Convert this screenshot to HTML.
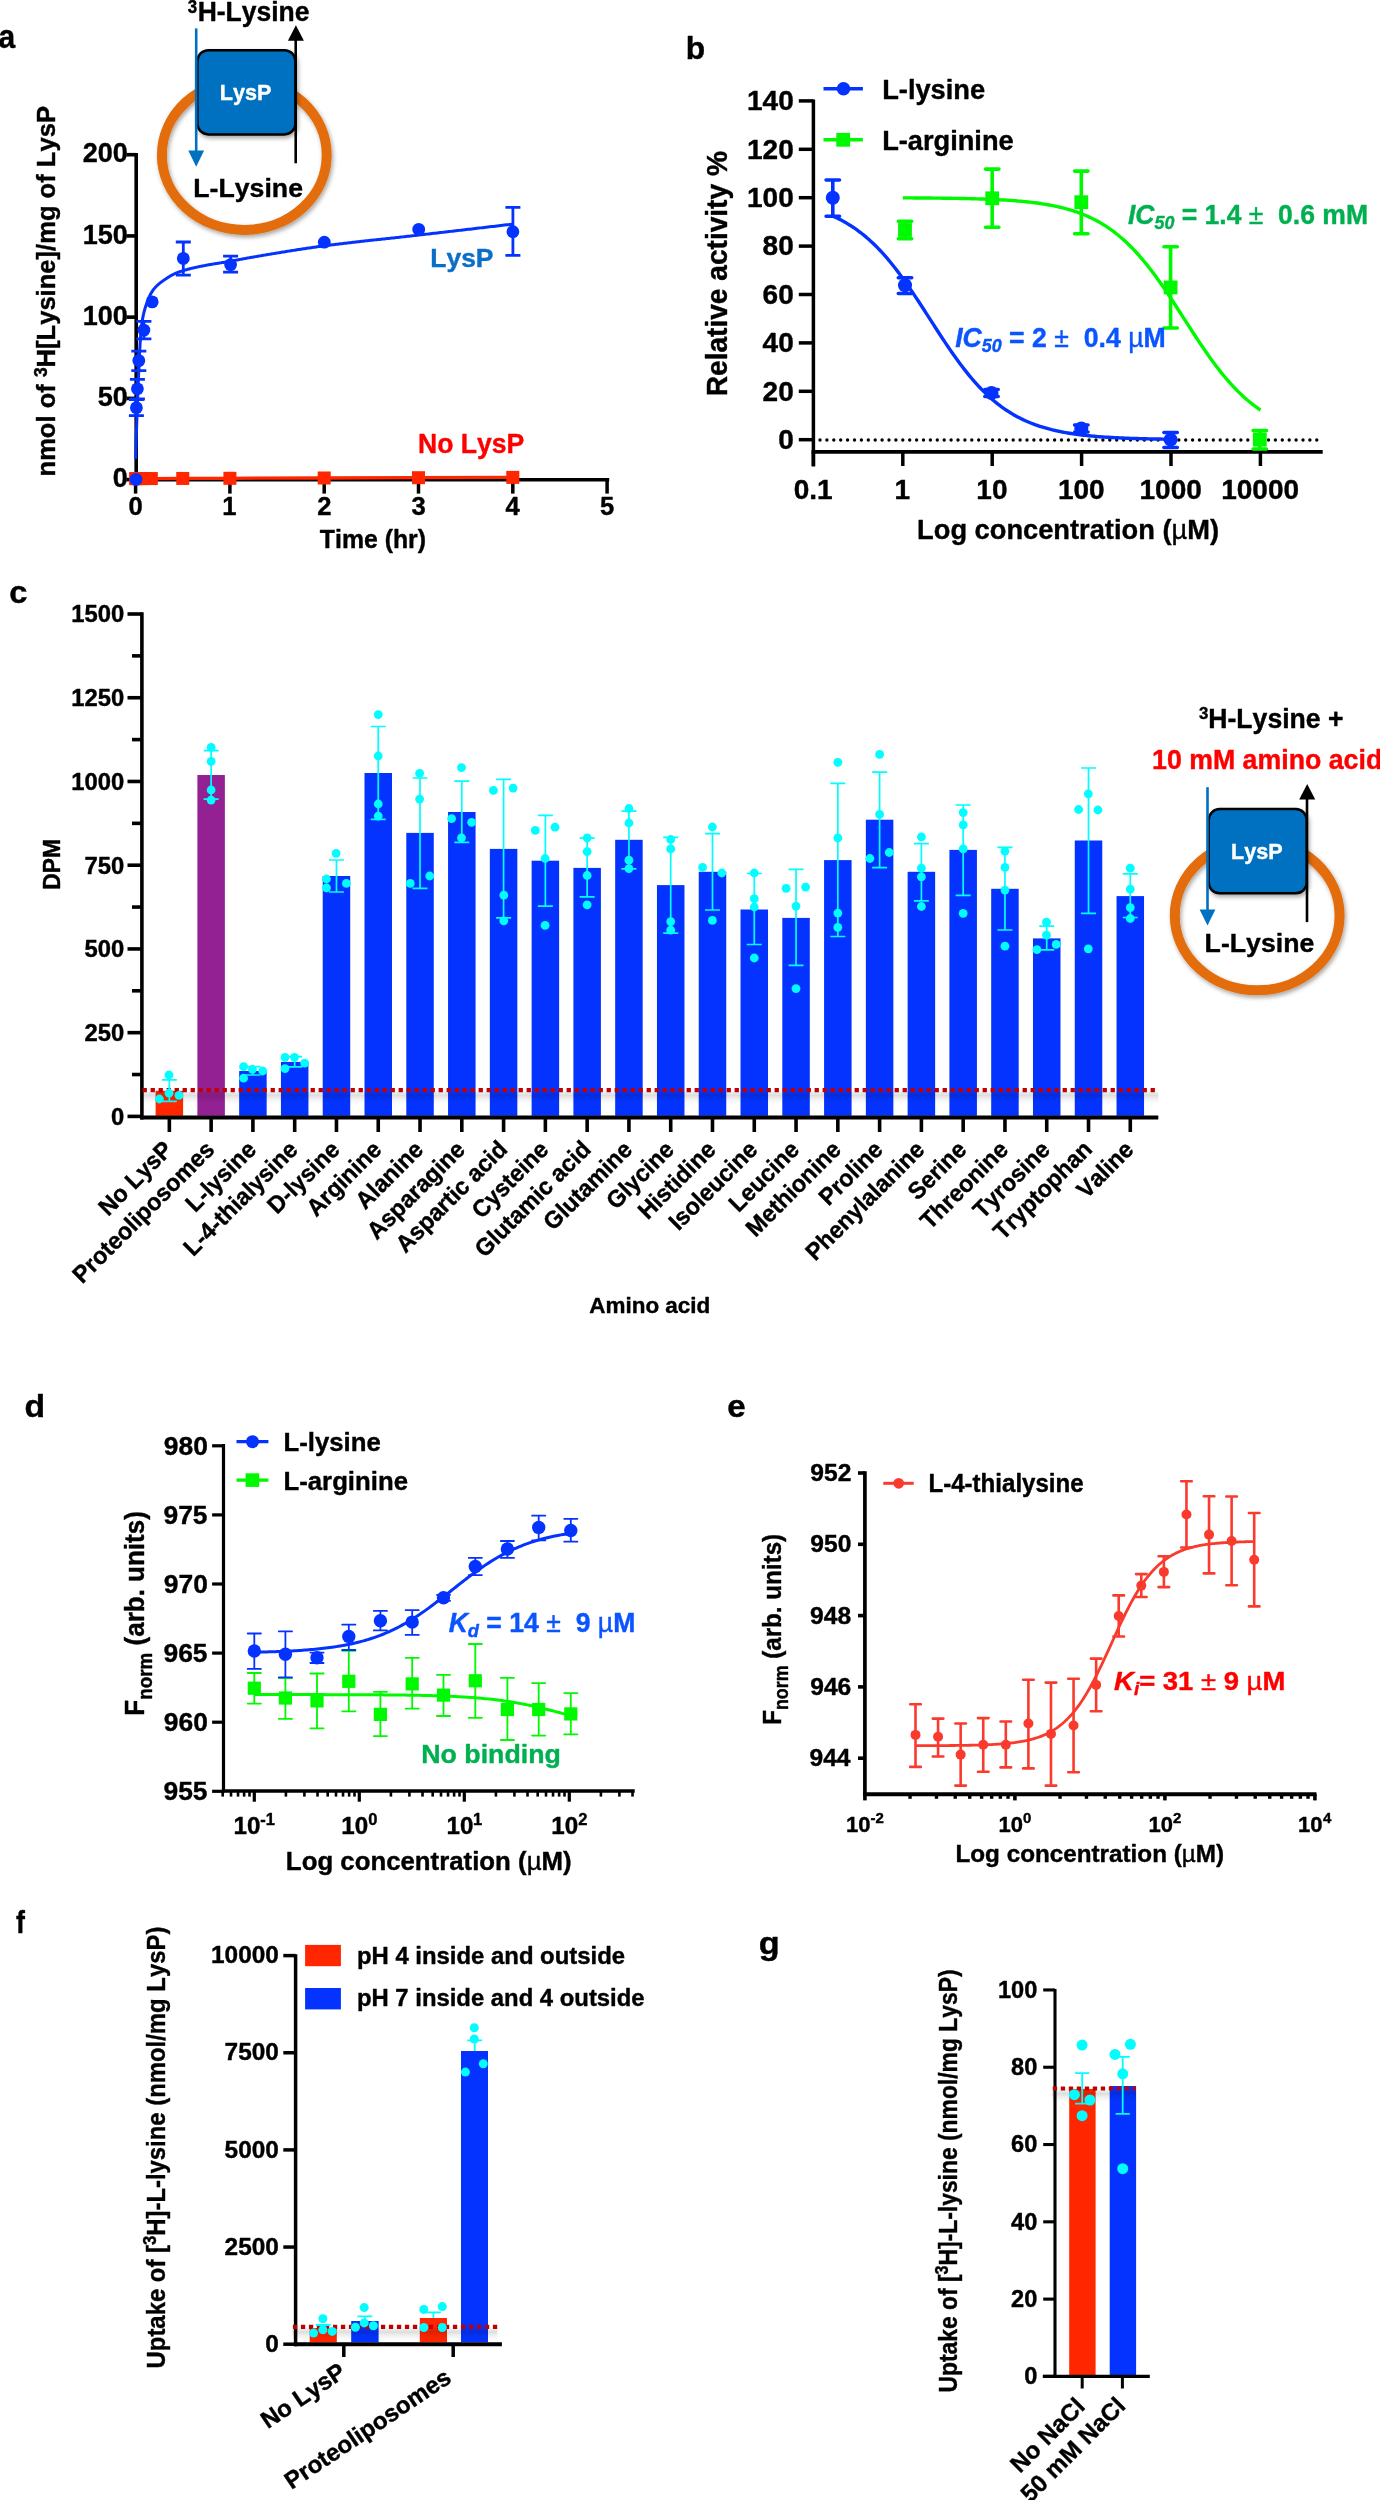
<!DOCTYPE html><html><head><meta charset="utf-8"><title>LysP figure</title><style>html,body{margin:0;padding:0;background:#fff;width:1380px;height:2500px;overflow:hidden}svg{display:block;opacity:0.999}text{font-family:"Liberation Sans",sans-serif;stroke-width:0.4px;stroke-linejoin:round}</style></head><body><svg width="1380" height="2500" viewBox="0 0 1380 2500" font-family="Liberation Sans, sans-serif" font-weight="bold" xml:space="preserve" style="font-kerning:none;white-space:pre">
<defs><filter id="sh" x="-20%" y="-20%" width="140%" height="140%"><feDropShadow dx="1.5" dy="2.5" stdDeviation="2.2" flood-color="#000" flood-opacity="0.35"/></filter><linearGradient id="gs" x1="0" y1="0" x2="0" y2="1"><stop offset="0" stop-color="#000" stop-opacity="0.05"/><stop offset="0.3" stop-color="#000" stop-opacity="0.13"/><stop offset="0.6" stop-color="#000" stop-opacity="0.06"/><stop offset="1" stop-color="#000" stop-opacity="0"/></linearGradient></defs>
<rect x="0" y="0" width="1380" height="2500" fill="#fff"/>
<g transform="translate(0,0)">
<ellipse cx="244.3" cy="155" rx="82.4" ry="74.9" fill="none" stroke="#E36C09" stroke-width="10" filter="url(#sh)"/>
<rect x="197.35" y="50.25" width="98.1" height="84.2" rx="11" fill="#0070C0" stroke="#000" stroke-width="2.5" filter="url(#sh)"/>
<line x1="196.2" y1="28.4" x2="196.2" y2="152" stroke="#0070C0" stroke-width="2.6"/>
<path d="M188.3 150.6 L204.1 150.6 L196.2 166.8 Z" fill="#0070C0"/>
<line x1="295.7" y1="163.3" x2="295.7" y2="39" stroke="#000" stroke-width="2.6"/>
<path d="M287.9 40.8 L303.9 40.8 L295.9 25.3 Z" fill="#000"/>
</g>
<text transform="translate(219.76,100.4) scale(0.9809,1)" fill="#fff" stroke="#fff"><tspan font-size="22">LysP</tspan></text>
<text transform="translate(193.32,196.5) scale(1.0067,1)" fill="#000" stroke="#000"><tspan font-size="26.5">L-Lysine</tspan></text>
<text transform="translate(187.71,12.9) scale(0.9135,1)" fill="#000" stroke="#000"><tspan font-size="18.5">3</tspan></text>
<text transform="translate(197.63,21) scale(0.9812,1)" fill="#000" stroke="#000"><tspan font-size="27">H-Lysine</tspan></text>
<text transform="translate(-1.48,48.2) scale(0.9093,1)" fill="#000" stroke="#000"><tspan font-size="33">a</tspan></text>
<line x1="136.2" y1="153" x2="136.2" y2="481.5" stroke="#000" stroke-width="3.6" stroke-linecap="butt"/>
<line x1="126.4" y1="479.6" x2="136.2" y2="479.6" stroke="#000" stroke-width="3.6" stroke-linecap="butt"/>
<text transform="translate(112.69,487.3) scale(1.0000,1)" fill="#000" stroke="#000"><tspan font-size="27">0</tspan></text>
<line x1="126.4" y1="398.38" x2="136.2" y2="398.38" stroke="#000" stroke-width="3.6" stroke-linecap="butt"/>
<text transform="translate(97.68,406.07) scale(1.0000,1)" fill="#000" stroke="#000"><tspan font-size="27">50</tspan></text>
<line x1="126.4" y1="317.15" x2="136.2" y2="317.15" stroke="#000" stroke-width="3.6" stroke-linecap="butt"/>
<text transform="translate(82.66,324.85) scale(1.0000,1)" fill="#000" stroke="#000"><tspan font-size="27">100</tspan></text>
<line x1="126.4" y1="235.93" x2="136.2" y2="235.93" stroke="#000" stroke-width="3.6" stroke-linecap="butt"/>
<text transform="translate(82.66,243.62) scale(1.0000,1)" fill="#000" stroke="#000"><tspan font-size="27">150</tspan></text>
<line x1="126.4" y1="154.7" x2="136.2" y2="154.7" stroke="#000" stroke-width="3.6" stroke-linecap="butt"/>
<text transform="translate(82.66,162.4) scale(1.0000,1)" fill="#000" stroke="#000"><tspan font-size="27">200</tspan></text>
<line x1="134.4" y1="479.8" x2="609.2" y2="479.8" stroke="#000" stroke-width="3.4" stroke-linecap="butt"/>
<line x1="135.6" y1="479.8" x2="135.6" y2="493.6" stroke="#000" stroke-width="3.5" stroke-linecap="butt"/>
<text transform="translate(128.5,514.6) scale(1.0000,1)" fill="#000" stroke="#000"><tspan font-size="25.6">0</tspan></text>
<line x1="229.9" y1="479.8" x2="229.9" y2="493.6" stroke="#000" stroke-width="3.5" stroke-linecap="butt"/>
<text transform="translate(222.33,514.6) scale(1.0000,1)" fill="#000" stroke="#000"><tspan font-size="25.6">1</tspan></text>
<line x1="324.2" y1="479.8" x2="324.2" y2="493.6" stroke="#000" stroke-width="3.5" stroke-linecap="butt"/>
<text transform="translate(317.15,514.6) scale(1.0000,1)" fill="#000" stroke="#000"><tspan font-size="25.6">2</tspan></text>
<line x1="418.5" y1="479.8" x2="418.5" y2="493.6" stroke="#000" stroke-width="3.5" stroke-linecap="butt"/>
<text transform="translate(411.55,514.6) scale(1.0000,1)" fill="#000" stroke="#000"><tspan font-size="25.6">3</tspan></text>
<line x1="512.8" y1="479.8" x2="512.8" y2="493.6" stroke="#000" stroke-width="3.5" stroke-linecap="butt"/>
<text transform="translate(505.56,514.6) scale(1.0000,1)" fill="#000" stroke="#000"><tspan font-size="25.6">4</tspan></text>
<line x1="607.1" y1="479.8" x2="607.1" y2="493.6" stroke="#000" stroke-width="3.5" stroke-linecap="butt"/>
<text transform="translate(599.94,514.6) scale(1.0000,1)" fill="#000" stroke="#000"><tspan font-size="25.6">5</tspan></text>
<text transform="translate(319.82,548.2) scale(0.9932,1)" fill="#000" stroke="#000"><tspan font-size="25">Time (hr)</tspan></text>
<text transform="translate(55.4,476.49) rotate(-90) scale(0.9651,1)" fill="#000" stroke="#000"><tspan font-size="26.5">nmol of </tspan><tspan font-size="18" dy="-8">3</tspan><tspan font-size="26.5" dy="8">H[Lysine]/mg of LysP</tspan></text>
<text transform="translate(430.33,267.1) scale(0.9974,1)" fill="#0A6FC6" stroke="#0A6FC6"><tspan font-size="26.5">LysP</tspan></text>
<text transform="translate(418.02,453) scale(0.9660,1)" fill="#FF0000" stroke="#FF0000"><tspan font-size="27.5">No LysP</tspan></text>
<path d="M135.6 478.6 L137.17 478.6 L138.74 478.59 L143.46 478.58 L151.32 478.55 L182.75 478.45 L229.9 478.3 L324.2 478 L418.5 477.7 L512.8 477.4" fill="none" stroke="#FF2600" stroke-width="3.3" stroke-linejoin="round"/>
<rect x="129.1" y="472.1" width="13" height="13" fill="#FF2600"/>
<rect x="130.67" y="472.1" width="13" height="13" fill="#FF2600"/>
<rect x="132.24" y="472.09" width="13" height="13" fill="#FF2600"/>
<rect x="136.96" y="472.08" width="13" height="13" fill="#FF2600"/>
<rect x="144.82" y="472.05" width="13" height="13" fill="#FF2600"/>
<rect x="176.25" y="471.95" width="13" height="13" fill="#FF2600"/>
<rect x="223.4" y="471.8" width="13" height="13" fill="#FF2600"/>
<rect x="317.7" y="471.5" width="13" height="13" fill="#FF2600"/>
<rect x="412" y="471.2" width="13" height="13" fill="#FF2600"/>
<rect x="506.3" y="470.9" width="13" height="13" fill="#FF2600"/>
<path d="M135.6 459 L135.6 458.92 L135.61 458.68 L135.62 458.28 L135.64 457.72 L135.66 457.01 L135.68 456.14 L135.72 455.11 L135.75 453.94 L135.79 452.61 L135.84 451.13 L135.88 449.51 L135.94 447.74 L136 445.83 L136.06 443.79 L136.13 441.61 L136.2 439.31 L136.28 436.88 L136.36 434.32 L136.45 431.66 L136.54 428.87 L136.64 425.98 L136.74 422.99 L136.84 419.9 L136.96 416.72 L137.07 413.44 L137.19 410.09 L137.31 406.66 L137.44 403.15 L137.58 399.58 L137.72 395.95 L137.86 392.25 L138.01 388.51 L138.16 384.72 L138.32 380.9 L138.48 377.03 L138.65 373.13 L138.82 369.21 L139 365.26 L139.18 361.31 L139.36 357.43 L139.55 353.67 L139.75 350.03 L139.95 346.54 L140.15 343.16 L140.36 339.84 L140.58 336.67 L140.8 333.8 L141.02 331.3 L141.25 328.98 L141.48 326.82 L141.72 324.8 L141.96 322.95 L142.21 321.25 L142.46 319.67 L142.72 318.2 L142.98 316.81 L143.24 315.49 L143.51 314.25 L143.79 313.06 L144.07 311.92 L144.35 310.82 L144.64 309.75 L144.94 308.73 L145.24 307.73 L145.54 306.76 L145.85 305.82 L146.16 304.89 L146.48 303.96 L146.8 303.04 L147.13 302.12 L147.46 301.2 L147.8 300.29 L148.14 299.4 L148.48 298.52 L148.83 297.68 L149.19 296.86 L149.55 296.09 L149.91 295.36 L150.28 294.68 L150.66 294.01 L151.03 293.36 L151.42 292.72 L151.81 292.09 L152.2 291.48 L152.6 290.88 L153 290.3 L153.41 289.73 L153.82 289.18 L154.23 288.64 L154.66 288.12 L155.08 287.62 L155.51 287.13 L155.95 286.66 L156.39 286.21 L156.83 285.76 L157.28 285.33 L157.73 284.91 L158.19 284.51 L158.66 284.11 L159.12 283.72 L159.6 283.33 L160.08 282.96 L160.56 282.59 L161.04 282.23 L161.54 281.87 L162.03 281.51 L162.53 281.16 L163.04 280.81 L163.55 280.46 L164.07 280.1 L164.59 279.75 L165.11 279.39 L165.64 279.02 L166.17 278.66 L166.71 278.3 L167.26 277.93 L167.8 277.57 L168.36 277.21 L168.91 276.86 L169.48 276.51 L170.04 276.16 L170.61 275.82 L171.19 275.49 L171.77 275.17 L172.36 274.86 L172.95 274.56 L173.54 274.28 L174.14 274 L174.75 273.73 L175.36 273.47 L175.97 273.21 L176.59 272.95 L177.21 272.7 L177.84 272.45 L178.47 272.21 L179.11 271.98 L179.75 271.74 L180.4 271.52 L181.05 271.3 L181.71 271.08 L182.37 270.87 L183.04 270.66 L183.71 270.46 L184.38 270.26 L185.06 270.06 L185.75 269.87 L186.44 269.68 L187.13 269.49 L187.83 269.3 L188.53 269.11 L189.24 268.93 L189.95 268.75 L190.67 268.57 L191.39 268.4 L192.12 268.22 L192.85 268.05 L193.59 267.88 L194.33 267.71 L195.07 267.54 L195.82 267.37 L196.58 267.21 L197.34 267.04 L198.1 266.88 L198.87 266.72 L199.65 266.56 L200.43 266.4 L201.21 266.24 L202 266.08 L202.79 265.92 L203.59 265.76 L204.39 265.6 L205.2 265.45 L206.01 265.29 L206.82 265.14 L207.65 264.99 L208.47 264.84 L209.3 264.7 L210.14 264.55 L210.98 264.41 L211.82 264.27 L212.67 264.12 L213.52 263.98 L214.38 263.84 L215.25 263.7 L216.11 263.56 L216.99 263.43 L217.86 263.29 L218.75 263.15 L219.63 263.01 L220.53 262.86 L221.42 262.72 L222.32 262.58 L223.23 262.43 L224.14 262.29 L225.05 262.14 L225.97 261.99 L226.9 261.83 L227.83 261.68 L228.76 261.52 L229.7 261.35 L230.64 261.19 L231.59 261.02 L232.54 260.84 L233.5 260.67 L234.46 260.49 L235.43 260.31 L236.4 260.12 L237.38 259.94 L238.36 259.75 L239.35 259.57 L240.34 259.38 L241.33 259.19 L242.33 259 L243.34 258.81 L244.34 258.62 L245.36 258.43 L246.38 258.25 L247.4 258.06 L248.43 257.88 L249.46 257.69 L250.5 257.51 L251.54 257.33 L252.59 257.15 L253.64 256.97 L254.7 256.79 L255.76 256.61 L256.82 256.42 L257.89 256.24 L258.97 256.06 L260.05 255.87 L261.13 255.69 L262.22 255.5 L263.31 255.31 L264.41 255.13 L265.52 254.94 L266.62 254.75 L267.74 254.56 L268.86 254.37 L269.98 254.19 L271.1 254 L272.24 253.81 L273.37 253.62 L274.51 253.43 L275.66 253.24 L276.81 253.05 L277.96 252.86 L279.12 252.66 L280.29 252.47 L281.46 252.28 L282.63 252.09 L283.81 251.9 L284.99 251.71 L286.18 251.52 L287.37 251.32 L288.57 251.13 L289.77 250.94 L290.98 250.75 L292.19 250.56 L293.41 250.37 L294.63 250.18 L295.85 249.98 L297.09 249.79 L298.32 249.6 L299.56 249.41 L300.8 249.22 L302.05 249.03 L303.31 248.84 L304.57 248.65 L305.83 248.47 L307.1 248.28 L308.37 248.09 L309.65 247.9 L310.93 247.72 L312.22 247.53 L313.51 247.35 L314.8 247.16 L316.1 246.98 L317.41 246.79 L318.72 246.61 L320.04 246.43 L321.36 246.25 L322.68 246.07 L324.01 245.89 L325.34 245.71 L326.68 245.54 L328.03 245.36 L329.37 245.19 L330.73 245.01 L332.08 244.84 L333.45 244.67 L334.81 244.49 L336.18 244.32 L337.56 244.15 L338.94 243.98 L340.33 243.81 L341.72 243.64 L343.11 243.48 L344.51 243.31 L345.92 243.14 L347.32 242.98 L348.74 242.81 L350.16 242.65 L351.58 242.48 L353.01 242.32 L354.44 242.15 L355.88 241.99 L357.32 241.83 L358.77 241.66 L360.22 241.5 L361.68 241.34 L363.14 241.17 L364.6 241.01 L366.07 240.85 L367.55 240.69 L369.03 240.53 L370.51 240.36 L372 240.2 L373.49 240.04 L374.99 239.88 L376.5 239.71 L378 239.55 L379.52 239.39 L381.03 239.23 L382.56 239.06 L384.08 238.9 L385.61 238.73 L387.15 238.57 L388.69 238.4 L390.24 238.24 L391.79 238.07 L393.34 237.9 L394.9 237.73 L396.47 237.56 L398.04 237.39 L399.61 237.22 L401.19 237.05 L402.77 236.88 L404.36 236.7 L405.95 236.53 L407.55 236.35 L409.15 236.17 L410.76 235.99 L412.37 235.81 L413.99 235.63 L415.61 235.44 L417.23 235.26 L418.86 235.07 L420.5 234.88 L422.14 234.69 L423.78 234.5 L425.43 234.31 L427.08 234.12 L428.74 233.93 L430.41 233.74 L432.07 233.54 L433.75 233.35 L435.42 233.16 L437.11 232.96 L438.79 232.77 L440.48 232.57 L442.18 232.37 L443.88 232.18 L445.59 231.98 L447.3 231.78 L449.01 231.58 L450.73 231.38 L452.46 231.18 L454.18 230.98 L455.92 230.78 L457.66 230.57 L459.4 230.37 L461.15 230.17 L462.9 229.96 L464.66 229.76 L466.42 229.55 L468.19 229.35 L469.96 229.14 L471.73 228.93 L473.52 228.72 L475.3 228.51 L477.09 228.3 L478.89 228.09 L480.69 227.88 L482.49 227.67 L484.3 227.46 L486.11 227.25 L487.93 227.03 L489.75 226.82 L491.58 226.6 L493.42 226.39 L495.25 226.17 L497.09 225.96 L498.94 225.74 L500.79 225.52 L502.65 225.3 L504.51 225.08 L506.38 224.86 L508.25 224.64 L510.12 224.42 L512 224.2" fill="none" stroke="#0433FF" stroke-width="3" stroke-linejoin="round"/>
<path d="M136.4 399.7 V415.7 M128.9 399.7 H143.9 M128.9 415.7 H143.9" stroke="#0433FF" stroke-width="2.8" stroke-linecap="butt" fill="none"/>
<circle cx="136.4" cy="407.7" r="6.4" fill="#0433FF"/>
<path d="M137.4 379.4 V399 M129.9 379.4 H144.9 M129.9 399 H144.9" stroke="#0433FF" stroke-width="2.8" stroke-linecap="butt" fill="none"/>
<circle cx="137.4" cy="388.8" r="6.4" fill="#0433FF"/>
<path d="M138.8 351.2 V370.7 M131.3 351.2 H146.3 M131.3 370.7 H146.3" stroke="#0433FF" stroke-width="2.8" stroke-linecap="butt" fill="none"/>
<circle cx="138.8" cy="360.6" r="6.4" fill="#0433FF"/>
<path d="M143.9 321.4 V338.8 M136.4 321.4 H151.4 M136.4 338.8 H151.4" stroke="#0433FF" stroke-width="2.8" stroke-linecap="butt" fill="none"/>
<circle cx="143.9" cy="330.1" r="6.4" fill="#0433FF"/>
<circle cx="152.2" cy="301.9" r="6.4" fill="#0433FF"/>
<path d="M183.3 242 V275.1 M175.8 242 H190.8 M175.8 275.1 H190.8" stroke="#0433FF" stroke-width="2.8" stroke-linecap="butt" fill="none"/>
<circle cx="183.3" cy="258.4" r="6.4" fill="#0433FF"/>
<path d="M230.6 256.2 V272.2 M223.1 256.2 H238.1 M223.1 272.2 H238.1" stroke="#0433FF" stroke-width="2.8" stroke-linecap="butt" fill="none"/>
<circle cx="230.6" cy="264.6" r="6.4" fill="#0433FF"/>
<circle cx="324.3" cy="242.2" r="6.4" fill="#0433FF"/>
<circle cx="418.7" cy="229.4" r="6.4" fill="#0433FF"/>
<path d="M512.9 207.4 V255.4 M505.4 207.4 H520.4 M505.4 255.4 H520.4" stroke="#0433FF" stroke-width="2.8" stroke-linecap="butt" fill="none"/>
<circle cx="512.9" cy="231.7" r="6.4" fill="#0433FF"/>
<circle cx="136" cy="479.4" r="6.4" fill="#0433FF"/>
<text transform="translate(685.81,59.3) scale(1.0410,1)" fill="#000" stroke="#000"><tspan font-size="30.5">b</tspan></text>
<line x1="813.4" y1="99.6" x2="813.4" y2="466.4" stroke="#000" stroke-width="3.5" stroke-linecap="butt"/>
<line x1="798.8" y1="439.7" x2="813.4" y2="439.7" stroke="#000" stroke-width="3.5" stroke-linecap="butt"/>
<text transform="translate(778.18,449) scale(1.0000,1)" fill="#000" stroke="#000"><tspan font-size="28">0</tspan></text>
<line x1="798.8" y1="391.3" x2="813.4" y2="391.3" stroke="#000" stroke-width="3.5" stroke-linecap="butt"/>
<text transform="translate(762.6,400.6) scale(1.0000,1)" fill="#000" stroke="#000"><tspan font-size="28">20</tspan></text>
<line x1="798.8" y1="342.9" x2="813.4" y2="342.9" stroke="#000" stroke-width="3.5" stroke-linecap="butt"/>
<text transform="translate(762.6,352.2) scale(1.0000,1)" fill="#000" stroke="#000"><tspan font-size="28">40</tspan></text>
<line x1="798.8" y1="294.5" x2="813.4" y2="294.5" stroke="#000" stroke-width="3.5" stroke-linecap="butt"/>
<text transform="translate(762.6,303.8) scale(1.0000,1)" fill="#000" stroke="#000"><tspan font-size="28">60</tspan></text>
<line x1="798.8" y1="246.1" x2="813.4" y2="246.1" stroke="#000" stroke-width="3.5" stroke-linecap="butt"/>
<text transform="translate(762.6,255.4) scale(1.0000,1)" fill="#000" stroke="#000"><tspan font-size="28">80</tspan></text>
<line x1="798.8" y1="197.7" x2="813.4" y2="197.7" stroke="#000" stroke-width="3.5" stroke-linecap="butt"/>
<text transform="translate(747.03,207) scale(1.0000,1)" fill="#000" stroke="#000"><tspan font-size="28">100</tspan></text>
<line x1="798.8" y1="149.3" x2="813.4" y2="149.3" stroke="#000" stroke-width="3.5" stroke-linecap="butt"/>
<text transform="translate(747.03,158.6) scale(1.0000,1)" fill="#000" stroke="#000"><tspan font-size="28">120</tspan></text>
<line x1="798.8" y1="100.9" x2="813.4" y2="100.9" stroke="#000" stroke-width="3.5" stroke-linecap="butt"/>
<text transform="translate(747.03,110.2) scale(1.0000,1)" fill="#000" stroke="#000"><tspan font-size="28">140</tspan></text>
<line x1="811.6" y1="451.9" x2="1322.7" y2="451.9" stroke="#000" stroke-width="3.8" stroke-linecap="butt"/>
<line x1="813.4" y1="451.9" x2="813.4" y2="466" stroke="#000" stroke-width="3.5" stroke-linecap="butt"/>
<text transform="translate(793.77,499) scale(1.0000,1)" fill="#000" stroke="#000"><tspan font-size="28">0.1</tspan></text>
<line x1="902.8" y1="451.9" x2="902.8" y2="466" stroke="#000" stroke-width="3.5" stroke-linecap="butt"/>
<text transform="translate(894.52,499) scale(1.0000,1)" fill="#000" stroke="#000"><tspan font-size="28">1</tspan></text>
<line x1="992.2" y1="451.9" x2="992.2" y2="466" stroke="#000" stroke-width="3.5" stroke-linecap="butt"/>
<text transform="translate(976.32,499) scale(1.0000,1)" fill="#000" stroke="#000"><tspan font-size="28">10</tspan></text>
<line x1="1081.6" y1="451.9" x2="1081.6" y2="466" stroke="#000" stroke-width="3.5" stroke-linecap="butt"/>
<text transform="translate(1057.93,499) scale(1.0000,1)" fill="#000" stroke="#000"><tspan font-size="28">100</tspan></text>
<line x1="1171" y1="451.9" x2="1171" y2="466" stroke="#000" stroke-width="3.5" stroke-linecap="butt"/>
<text transform="translate(1139.55,499) scale(1.0000,1)" fill="#000" stroke="#000"><tspan font-size="28">1000</tspan></text>
<line x1="1260.4" y1="451.9" x2="1260.4" y2="466" stroke="#000" stroke-width="3.5" stroke-linecap="butt"/>
<text transform="translate(1221.16,499) scale(1.0000,1)" fill="#000" stroke="#000"><tspan font-size="28">10000</tspan></text>
<line x1="820" y1="440" x2="1322" y2="440" stroke="#000" stroke-width="3.4" stroke-linecap="round" stroke-dasharray="0 6.9"/>
<text transform="translate(917.08,538.6) scale(0.9570,1)" fill="#000" stroke="#000"><tspan font-size="28.5">Log concentration (</tspan><tspan font-size="28.5" font-weight="normal">µ</tspan><tspan font-size="28.5">M)</tspan></text>
<text transform="translate(727,396.28) rotate(-90) scale(0.9690,1)" fill="#000" stroke="#000"><tspan font-size="29">Relative activity %</tspan></text>
<line x1="823.5" y1="88.8" x2="862.9" y2="88.8" stroke="#0433FF" stroke-width="3.5" stroke-linecap="butt"/>
<circle cx="843.5" cy="88.8" r="6.8" fill="#0433FF"/>
<text transform="translate(882.18,99.4) scale(0.9907,1)" fill="#000" stroke="#000"><tspan font-size="27.5">L-lysine</tspan></text>
<line x1="823.5" y1="139.8" x2="862.9" y2="139.8" stroke="#00F900" stroke-width="3.5" stroke-linecap="butt"/>
<rect x="836.3" y="132.9" width="13.8" height="13.8" fill="#00F900"/>
<text transform="translate(882.18,150.4) scale(0.9897,1)" fill="#000" stroke="#000"><tspan font-size="27.5">L-arginine</tspan></text>
<path d="M831.65 215.63 L833.44 216.41 L835.22 217.22 L837.01 218.06 L838.8 218.93 L840.59 219.84 L842.38 220.79 L844.16 221.77 L845.95 222.78 L847.74 223.84 L849.53 224.93 L851.32 226.06 L853.1 227.24 L854.89 228.45 L856.68 229.71 L858.47 231.01 L860.26 232.36 L862.04 233.75 L863.83 235.18 L865.62 236.66 L867.41 238.19 L869.2 239.77 L870.98 241.39 L872.77 243.07 L874.56 244.79 L876.35 246.56 L878.14 248.38 L879.92 250.25 L881.71 252.17 L883.5 254.14 L885.29 256.16 L887.08 258.22 L888.86 260.34 L890.65 262.5 L892.44 264.71 L894.23 266.96 L896.02 269.26 L897.8 271.6 L899.59 273.99 L901.38 276.41 L903.17 278.88 L904.96 281.38 L906.74 283.92 L908.53 286.49 L910.32 289.1 L912.11 291.73 L913.9 294.39 L915.68 297.08 L917.47 299.78 L919.26 302.51 L921.05 305.26 L922.84 308.01 L924.62 310.78 L926.41 313.56 L928.2 316.34 L929.99 319.13 L931.78 321.92 L933.56 324.7 L935.35 327.47 L937.14 330.24 L938.93 332.99 L940.72 335.73 L942.5 338.45 L944.29 341.16 L946.08 343.83 L947.87 346.49 L949.66 349.11 L951.44 351.71 L953.23 354.27 L955.02 356.8 L956.81 359.29 L958.6 361.74 L960.38 364.15 L962.17 366.53 L963.96 368.86 L965.75 371.14 L967.54 373.38 L969.32 375.58 L971.11 377.72 L972.9 379.82 L974.69 381.87 L976.48 383.87 L978.26 385.83 L980.05 387.73 L981.84 389.59 L983.63 391.39 L985.42 393.15 L987.2 394.85 L988.99 396.51 L990.78 398.12 L992.57 399.68 L994.36 401.2 L996.14 402.67 L997.93 404.09 L999.72 405.46 L1001.51 406.8 L1003.3 408.08 L1005.08 409.33 L1006.87 410.53 L1008.66 411.69 L1010.45 412.81 L1012.24 413.89 L1014.02 414.93 L1015.81 415.94 L1017.6 416.91 L1019.39 417.84 L1021.18 418.74 L1022.96 419.61 L1024.75 420.44 L1026.54 421.24 L1028.33 422.01 L1030.12 422.75 L1031.9 423.46 L1033.69 424.14 L1035.48 424.8 L1037.27 425.43 L1039.06 426.04 L1040.84 426.62 L1042.63 427.18 L1044.42 427.71 L1046.21 428.23 L1048 428.72 L1049.78 429.19 L1051.57 429.65 L1053.36 430.08 L1055.15 430.5 L1056.94 430.9 L1058.72 431.28 L1060.51 431.65 L1062.3 432 L1064.09 432.33 L1065.88 432.65 L1067.66 432.96 L1069.45 433.26 L1071.24 433.54 L1073.03 433.81 L1074.82 434.07 L1076.6 434.32 L1078.39 434.55 L1080.18 434.78 L1081.97 435 L1083.76 435.21 L1085.54 435.41 L1087.33 435.6 L1089.12 435.78 L1090.91 435.95 L1092.7 436.12 L1094.48 436.28 L1096.27 436.43 L1098.06 436.57 L1099.85 436.71 L1101.64 436.85 L1103.42 436.97 L1105.21 437.09 L1107 437.21 L1108.79 437.32 L1110.58 437.43 L1112.36 437.53 L1114.15 437.63 L1115.94 437.72 L1117.73 437.81 L1119.52 437.89 L1121.3 437.97 L1123.09 438.05 L1124.88 438.12 L1126.67 438.19 L1128.46 438.26 L1130.24 438.33 L1132.03 438.39 L1133.82 438.45 L1135.61 438.5 L1137.4 438.56 L1139.18 438.61 L1140.97 438.66 L1142.76 438.7 L1144.55 438.75 L1146.34 438.79 L1148.12 438.83 L1149.91 438.87 L1151.7 438.91 L1153.49 438.94 L1155.28 438.98 L1157.06 439.01 L1158.85 439.04 L1160.64 439.07 L1162.43 439.1 L1164.22 439.12 L1166 439.15 L1167.79 439.18 L1169.58 439.2" fill="none" stroke="#0433FF" stroke-width="3.4" stroke-linejoin="round"/>
<path d="M902.8 197.87 L904.59 197.88 L906.38 197.89 L908.16 197.9 L909.95 197.91 L911.74 197.92 L913.53 197.93 L915.32 197.94 L917.1 197.95 L918.89 197.96 L920.68 197.97 L922.47 197.99 L924.26 198 L926.04 198.01 L927.83 198.03 L929.62 198.04 L931.41 198.06 L933.2 198.08 L934.98 198.1 L936.77 198.11 L938.56 198.13 L940.35 198.15 L942.14 198.18 L943.92 198.2 L945.71 198.22 L947.5 198.25 L949.29 198.27 L951.08 198.3 L952.86 198.33 L954.65 198.36 L956.44 198.39 L958.23 198.42 L960.02 198.45 L961.8 198.49 L963.59 198.52 L965.38 198.56 L967.17 198.6 L968.96 198.65 L970.74 198.69 L972.53 198.74 L974.32 198.79 L976.11 198.84 L977.9 198.89 L979.68 198.95 L981.47 199 L983.26 199.07 L985.05 199.13 L986.84 199.2 L988.62 199.27 L990.41 199.34 L992.2 199.42 L993.99 199.5 L995.78 199.58 L997.56 199.67 L999.35 199.76 L1001.14 199.86 L1002.93 199.96 L1004.72 200.06 L1006.5 200.17 L1008.29 200.29 L1010.08 200.41 L1011.87 200.54 L1013.66 200.67 L1015.44 200.81 L1017.23 200.95 L1019.02 201.1 L1020.81 201.26 L1022.6 201.42 L1024.38 201.6 L1026.17 201.78 L1027.96 201.97 L1029.75 202.16 L1031.54 202.37 L1033.32 202.58 L1035.11 202.81 L1036.9 203.05 L1038.69 203.29 L1040.48 203.55 L1042.26 203.82 L1044.05 204.1 L1045.84 204.39 L1047.63 204.7 L1049.42 205.02 L1051.2 205.35 L1052.99 205.7 L1054.78 206.06 L1056.57 206.44 L1058.36 206.84 L1060.14 207.25 L1061.93 207.69 L1063.72 208.14 L1065.51 208.61 L1067.3 209.1 L1069.08 209.61 L1070.87 210.14 L1072.66 210.69 L1074.45 211.27 L1076.24 211.87 L1078.02 212.5 L1079.81 213.15 L1081.6 213.83 L1083.39 214.54 L1085.18 215.28 L1086.96 216.04 L1088.75 216.84 L1090.54 217.67 L1092.33 218.53 L1094.12 219.42 L1095.9 220.35 L1097.69 221.31 L1099.48 222.31 L1101.27 223.35 L1103.06 224.42 L1104.84 225.54 L1106.63 226.69 L1108.42 227.89 L1110.21 229.13 L1112 230.41 L1113.78 231.73 L1115.57 233.1 L1117.36 234.51 L1119.15 235.98 L1120.94 237.48 L1122.72 239.04 L1124.51 240.64 L1126.3 242.29 L1128.09 243.99 L1129.88 245.74 L1131.66 247.54 L1133.45 249.38 L1135.24 251.28 L1137.03 253.23 L1138.82 255.22 L1140.6 257.26 L1142.39 259.36 L1144.18 261.5 L1145.97 263.68 L1147.76 265.92 L1149.54 268.19 L1151.33 270.52 L1153.12 272.88 L1154.91 275.29 L1156.7 277.74 L1158.48 280.22 L1160.27 282.74 L1162.06 285.3 L1163.85 287.89 L1165.64 290.51 L1167.42 293.16 L1169.21 295.84 L1171 298.53 L1172.79 301.25 L1174.58 303.99 L1176.36 306.74 L1178.15 309.51 L1179.94 312.28 L1181.73 315.06 L1183.52 317.85 L1185.3 320.63 L1187.09 323.42 L1188.88 326.2 L1190.67 328.97 L1192.46 331.73 L1194.24 334.47 L1196.03 337.2 L1197.82 339.91 L1199.61 342.6 L1201.4 345.27 L1203.18 347.91 L1204.97 350.51 L1206.76 353.09 L1208.55 355.64 L1210.34 358.14 L1212.12 360.62 L1213.91 363.05 L1215.7 365.44 L1217.49 367.79 L1219.28 370.09 L1221.06 372.35 L1222.85 374.57 L1224.64 376.74 L1226.43 378.86 L1228.22 380.93 L1230 382.96 L1231.79 384.93 L1233.58 386.86 L1235.37 388.74 L1237.16 390.57 L1238.94 392.34 L1240.73 394.07 L1242.52 395.75 L1244.31 397.39 L1246.1 398.97 L1247.88 400.51 L1249.67 402 L1251.46 403.44 L1253.25 404.84 L1255.04 406.19 L1256.82 407.5 L1258.61 408.76 L1260.4 409.98" fill="none" stroke="#00F900" stroke-width="3.4" stroke-linejoin="round"/>
<path d="M832.8 180 V216.3 M826.1 180 H839.5 M826.1 216.3 H839.5" stroke="#0433FF" stroke-width="3.6" stroke-linecap="round" fill="none"/>
<circle cx="832.8" cy="197.8" r="7" fill="#0433FF"/>
<path d="M905 277.8 V293.5 M898.3 277.8 H911.7 M898.3 293.5 H911.7" stroke="#0433FF" stroke-width="3.6" stroke-linecap="round" fill="none"/>
<circle cx="905" cy="285.2" r="7" fill="#0433FF"/>
<path d="M991.5 389.5 V396.5 M984.8 389.5 H998.2 M984.8 396.5 H998.2" stroke="#0433FF" stroke-width="3.6" stroke-linecap="round" fill="none"/>
<circle cx="991.5" cy="393" r="7" fill="#0433FF"/>
<path d="M1081.3 425 V432 M1074.6 425 H1088 M1074.6 432 H1088" stroke="#0433FF" stroke-width="3.6" stroke-linecap="round" fill="none"/>
<circle cx="1081.3" cy="428.4" r="7" fill="#0433FF"/>
<path d="M1170.6 432.5 V447.5 M1163.9 432.5 H1177.3 M1163.9 447.5 H1177.3" stroke="#0433FF" stroke-width="3.6" stroke-linecap="round" fill="none"/>
<circle cx="1170.6" cy="439.6" r="7" fill="#0433FF"/>
<path d="M905 221.3 V238.7 M898.3 221.3 H911.7 M898.3 238.7 H911.7" stroke="#00F900" stroke-width="3.6" stroke-linecap="round" fill="none"/>
<rect x="898.1" y="223.1" width="13.8" height="13.8" fill="#00F900"/>
<path d="M992.2 169.1 V227.2 M985.5 169.1 H998.9 M985.5 227.2 H998.9" stroke="#00F900" stroke-width="3.6" stroke-linecap="round" fill="none"/>
<rect x="985.3" y="191.4" width="13.8" height="13.8" fill="#00F900"/>
<path d="M1081.3 171.1 V233.7 M1074.6 171.1 H1088 M1074.6 233.7 H1088" stroke="#00F900" stroke-width="3.6" stroke-linecap="round" fill="none"/>
<rect x="1074.4" y="195.3" width="13.8" height="13.8" fill="#00F900"/>
<path d="M1170.6 246.8 V328 M1163.9 246.8 H1177.3 M1163.9 328 H1177.3" stroke="#00F900" stroke-width="3.6" stroke-linecap="round" fill="none"/>
<rect x="1163.7" y="280.5" width="13.8" height="13.8" fill="#00F900"/>
<path d="M1259.8 430.6 V449 M1253.1 430.6 H1266.5 M1253.1 449 H1266.5" stroke="#00F900" stroke-width="3.6" stroke-linecap="round" fill="none"/>
<rect x="1252.9" y="432.7" width="13.8" height="13.8" fill="#00F900"/>
<text transform="translate(955.13,346.5) scale(0.9420,1)" fill="#0A55FF" stroke="#0A55FF"><tspan font-size="28.3" font-style="italic">IC</tspan><tspan font-size="19" font-style="italic" dy="5.2">50</tspan><tspan font-size="28.3" dy="-5.2"> = 2 </tspan><tspan font-size="28.3" font-weight="normal">±</tspan><tspan font-size="28.3">  0.4 </tspan><tspan font-size="28.3" font-weight="normal">µ</tspan><tspan font-size="28.3">M</tspan></text>
<text transform="translate(1127.93,223.7) scale(0.9381,1)" fill="#00B050" stroke="#00B050"><tspan font-size="28.3" font-style="italic">IC</tspan><tspan font-size="19" font-style="italic" dy="5.2">50</tspan><tspan font-size="28.3" dy="-5.2"> = 1.4 </tspan><tspan font-size="28.3" font-weight="normal">±</tspan><tspan font-size="28.3">  0.6 mM</tspan></text>
<text transform="translate(9.13,603) scale(1.0515,1)" fill="#000" stroke="#000"><tspan font-size="31">c</tspan></text>
<line x1="141.9" y1="612.2" x2="141.9" y2="1119.6" stroke="#000" stroke-width="3.6" stroke-linecap="butt"/>
<line x1="127.5" y1="1116.4" x2="141.9" y2="1116.4" stroke="#000" stroke-width="3.6" stroke-linecap="butt"/>
<text transform="translate(110.94,1124.7) scale(1.0000,1)" fill="#000" stroke="#000"><tspan font-size="23.8">0</tspan></text>
<line x1="132" y1="1074.53" x2="141.9" y2="1074.53" stroke="#000" stroke-width="3.6" stroke-linecap="butt"/>
<line x1="127.5" y1="1032.67" x2="141.9" y2="1032.67" stroke="#000" stroke-width="3.6" stroke-linecap="butt"/>
<text transform="translate(84.47,1040.97) scale(1.0000,1)" fill="#000" stroke="#000"><tspan font-size="23.8">250</tspan></text>
<line x1="132" y1="990.8" x2="141.9" y2="990.8" stroke="#000" stroke-width="3.6" stroke-linecap="butt"/>
<line x1="127.5" y1="948.94" x2="141.9" y2="948.94" stroke="#000" stroke-width="3.6" stroke-linecap="butt"/>
<text transform="translate(84.47,957.24) scale(1.0000,1)" fill="#000" stroke="#000"><tspan font-size="23.8">500</tspan></text>
<line x1="132" y1="907.07" x2="141.9" y2="907.07" stroke="#000" stroke-width="3.6" stroke-linecap="butt"/>
<line x1="127.5" y1="865.2" x2="141.9" y2="865.2" stroke="#000" stroke-width="3.6" stroke-linecap="butt"/>
<text transform="translate(84.47,873.5) scale(1.0000,1)" fill="#000" stroke="#000"><tspan font-size="23.8">750</tspan></text>
<line x1="132" y1="823.34" x2="141.9" y2="823.34" stroke="#000" stroke-width="3.6" stroke-linecap="butt"/>
<line x1="127.5" y1="781.47" x2="141.9" y2="781.47" stroke="#000" stroke-width="3.6" stroke-linecap="butt"/>
<text transform="translate(71.23,789.77) scale(1.0000,1)" fill="#000" stroke="#000"><tspan font-size="23.8">1000</tspan></text>
<line x1="132" y1="739.6" x2="141.9" y2="739.6" stroke="#000" stroke-width="3.6" stroke-linecap="butt"/>
<line x1="127.5" y1="697.74" x2="141.9" y2="697.74" stroke="#000" stroke-width="3.6" stroke-linecap="butt"/>
<text transform="translate(71.23,706.04) scale(1.0000,1)" fill="#000" stroke="#000"><tspan font-size="23.8">1250</tspan></text>
<line x1="132" y1="655.87" x2="141.9" y2="655.87" stroke="#000" stroke-width="3.6" stroke-linecap="butt"/>
<line x1="127.5" y1="614.01" x2="141.9" y2="614.01" stroke="#000" stroke-width="3.6" stroke-linecap="butt"/>
<text transform="translate(71.23,622.31) scale(1.0000,1)" fill="#000" stroke="#000"><tspan font-size="23.8">1500</tspan></text>
<text transform="translate(59.7,889.72) rotate(-90) scale(0.9910,1)" fill="#000" stroke="#000"><tspan font-size="23">DPM</tspan></text>
<rect x="155.6" y="1090.8" width="27.5" height="25" fill="#FF2600"/>
<rect x="197.38" y="775" width="27.5" height="340.8" fill="#942193"/>
<rect x="239.16" y="1071" width="27.5" height="44.8" fill="#0433FF"/>
<rect x="280.94" y="1061.9" width="27.5" height="53.9" fill="#0433FF"/>
<rect x="322.72" y="876" width="27.5" height="239.8" fill="#0433FF"/>
<rect x="364.5" y="773" width="27.5" height="342.8" fill="#0433FF"/>
<rect x="406.28" y="832.9" width="27.5" height="282.9" fill="#0433FF"/>
<rect x="448.06" y="812" width="27.5" height="303.8" fill="#0433FF"/>
<rect x="489.84" y="848.9" width="27.5" height="266.9" fill="#0433FF"/>
<rect x="531.62" y="860.7" width="27.5" height="255.1" fill="#0433FF"/>
<rect x="573.4" y="867.9" width="27.5" height="247.9" fill="#0433FF"/>
<rect x="615.18" y="839.8" width="27.5" height="276" fill="#0433FF"/>
<rect x="656.96" y="885.1" width="27.5" height="230.7" fill="#0433FF"/>
<rect x="698.74" y="871.8" width="27.5" height="244" fill="#0433FF"/>
<rect x="740.52" y="909.5" width="27.5" height="206.3" fill="#0433FF"/>
<rect x="782.3" y="917.9" width="27.5" height="197.9" fill="#0433FF"/>
<rect x="824.08" y="860.1" width="27.5" height="255.7" fill="#0433FF"/>
<rect x="865.86" y="819.7" width="27.5" height="296.1" fill="#0433FF"/>
<rect x="907.64" y="871.8" width="27.5" height="244" fill="#0433FF"/>
<rect x="949.42" y="849.9" width="27.5" height="265.9" fill="#0433FF"/>
<rect x="991.2" y="888.8" width="27.5" height="227" fill="#0433FF"/>
<rect x="1032.98" y="938.4" width="27.5" height="177.4" fill="#0433FF"/>
<rect x="1074.76" y="840.5" width="27.5" height="275.3" fill="#0433FF"/>
<rect x="1116.54" y="896.1" width="27.5" height="219.7" fill="#0433FF"/>
<rect x="142" y="1091.6" width="1016.3" height="12" fill="url(#gs)"/>
<line x1="142.6" y1="1090.1" x2="1158.3" y2="1090.1" stroke="#C00000" stroke-width="4.2" stroke-dasharray="4.3 3.7"/>
<path d="M169.35 1079.8 V1101.3 M161.85 1079.8 H176.85 M161.85 1101.3 H176.85" stroke="#00FDFF" stroke-width="1.7" stroke-linecap="butt" fill="none"/>
<circle cx="169" cy="1075" r="4.4" fill="#00FDFF"/>
<circle cx="159.4" cy="1099" r="4.4" fill="#00FDFF"/>
<circle cx="169" cy="1093.2" r="4.4" fill="#00FDFF"/>
<circle cx="179" cy="1095.4" r="4.4" fill="#00FDFF"/>
<path d="M211.13 750.6 V799.1 M203.63 750.6 H218.63 M203.63 799.1 H218.63" stroke="#00FDFF" stroke-width="1.7" stroke-linecap="butt" fill="none"/>
<circle cx="211.13" cy="747.4" r="4.4" fill="#00FDFF"/>
<circle cx="211.13" cy="761.4" r="4.4" fill="#00FDFF"/>
<circle cx="211.13" cy="790" r="4.4" fill="#00FDFF"/>
<circle cx="211.13" cy="800.1" r="4.4" fill="#00FDFF"/>
<path d="M252.91 1066.7 V1075 M245.41 1066.7 H260.41 M245.41 1075 H260.41" stroke="#00FDFF" stroke-width="1.7" stroke-linecap="butt" fill="none"/>
<circle cx="243.6" cy="1066.7" r="4.4" fill="#00FDFF"/>
<circle cx="252.4" cy="1069.3" r="4.4" fill="#00FDFF"/>
<circle cx="262.7" cy="1071" r="4.4" fill="#00FDFF"/>
<circle cx="243.6" cy="1078.2" r="4.4" fill="#00FDFF"/>
<path d="M294.69 1056.6 V1066.9 M287.19 1056.6 H302.19 M287.19 1066.9 H302.19" stroke="#00FDFF" stroke-width="1.7" stroke-linecap="butt" fill="none"/>
<circle cx="285" cy="1057.3" r="4.4" fill="#00FDFF"/>
<circle cx="294.5" cy="1057.3" r="4.4" fill="#00FDFF"/>
<circle cx="304.6" cy="1063.1" r="4.4" fill="#00FDFF"/>
<circle cx="285" cy="1068.6" r="4.4" fill="#00FDFF"/>
<path d="M336.47 860 V892 M328.97 860 H343.97 M328.97 892 H343.97" stroke="#00FDFF" stroke-width="1.7" stroke-linecap="butt" fill="none"/>
<circle cx="336.1" cy="853.3" r="4.4" fill="#00FDFF"/>
<circle cx="326.5" cy="879" r="4.4" fill="#00FDFF"/>
<circle cx="326.5" cy="887.8" r="4.4" fill="#00FDFF"/>
<circle cx="346.4" cy="883.4" r="4.4" fill="#00FDFF"/>
<path d="M378.25 726.5 V819.3 M370.75 726.5 H385.75 M370.75 819.3 H385.75" stroke="#00FDFF" stroke-width="1.7" stroke-linecap="butt" fill="none"/>
<circle cx="378.25" cy="714.6" r="4.4" fill="#00FDFF"/>
<circle cx="378.25" cy="756" r="4.4" fill="#00FDFF"/>
<circle cx="378.25" cy="804" r="4.4" fill="#00FDFF"/>
<circle cx="378.25" cy="816.1" r="4.4" fill="#00FDFF"/>
<path d="M420.03 778 V888.3 M412.53 778 H427.53 M412.53 888.3 H427.53" stroke="#00FDFF" stroke-width="1.7" stroke-linecap="butt" fill="none"/>
<circle cx="419.6" cy="773.3" r="4.4" fill="#00FDFF"/>
<circle cx="419.6" cy="799.1" r="4.4" fill="#00FDFF"/>
<circle cx="410.3" cy="883.4" r="4.4" fill="#00FDFF"/>
<circle cx="429.7" cy="876" r="4.4" fill="#00FDFF"/>
<path d="M461.81 781.2 V842.3 M454.31 781.2 H469.31 M454.31 842.3 H469.31" stroke="#00FDFF" stroke-width="1.7" stroke-linecap="butt" fill="none"/>
<circle cx="461.5" cy="767.6" r="4.4" fill="#00FDFF"/>
<circle cx="451.6" cy="818.6" r="4.4" fill="#00FDFF"/>
<circle cx="471.6" cy="822.3" r="4.4" fill="#00FDFF"/>
<circle cx="461.5" cy="837.8" r="4.4" fill="#00FDFF"/>
<path d="M503.59 779.4 V917.9 M496.09 779.4 H511.09 M496.09 917.9 H511.09" stroke="#00FDFF" stroke-width="1.7" stroke-linecap="butt" fill="none"/>
<circle cx="493.4" cy="790.3" r="4.4" fill="#00FDFF"/>
<circle cx="513.1" cy="788.1" r="4.4" fill="#00FDFF"/>
<circle cx="503.8" cy="895.2" r="4.4" fill="#00FDFF"/>
<circle cx="503.8" cy="920.8" r="4.4" fill="#00FDFF"/>
<path d="M545.37 815.4 V906.1 M537.87 815.4 H552.87 M537.87 906.1 H552.87" stroke="#00FDFF" stroke-width="1.7" stroke-linecap="butt" fill="none"/>
<circle cx="535.3" cy="830.4" r="4.4" fill="#00FDFF"/>
<circle cx="555" cy="827.2" r="4.4" fill="#00FDFF"/>
<circle cx="545.1" cy="858.5" r="4.4" fill="#00FDFF"/>
<circle cx="545.1" cy="925.3" r="4.4" fill="#00FDFF"/>
<path d="M587.15 838.1 V896.9 M579.65 838.1 H594.65 M579.65 896.9 H594.65" stroke="#00FDFF" stroke-width="1.7" stroke-linecap="butt" fill="none"/>
<circle cx="587.15" cy="837.8" r="4.4" fill="#00FDFF"/>
<circle cx="587.15" cy="851.6" r="4.4" fill="#00FDFF"/>
<circle cx="587.15" cy="875.5" r="4.4" fill="#00FDFF"/>
<circle cx="587.15" cy="904.8" r="4.4" fill="#00FDFF"/>
<path d="M628.93 811.2 V868.9 M621.43 811.2 H636.43 M621.43 868.9 H636.43" stroke="#00FDFF" stroke-width="1.7" stroke-linecap="butt" fill="none"/>
<circle cx="628.93" cy="808.5" r="4.4" fill="#00FDFF"/>
<circle cx="628.93" cy="823" r="4.4" fill="#00FDFF"/>
<circle cx="628.93" cy="860.2" r="4.4" fill="#00FDFF"/>
<circle cx="628.93" cy="868.6" r="4.4" fill="#00FDFF"/>
<path d="M670.71 837.3 V933.2 M663.21 837.3 H678.21 M663.21 933.2 H678.21" stroke="#00FDFF" stroke-width="1.7" stroke-linecap="butt" fill="none"/>
<circle cx="670.71" cy="839.5" r="4.4" fill="#00FDFF"/>
<circle cx="670.71" cy="848.9" r="4.4" fill="#00FDFF"/>
<circle cx="670.71" cy="921.6" r="4.4" fill="#00FDFF"/>
<circle cx="670.71" cy="930.2" r="4.4" fill="#00FDFF"/>
<path d="M712.49 833.6 V910 M704.99 833.6 H719.99 M704.99 910 H719.99" stroke="#00FDFF" stroke-width="1.7" stroke-linecap="butt" fill="none"/>
<circle cx="712.4" cy="827" r="4.4" fill="#00FDFF"/>
<circle cx="702.6" cy="867.4" r="4.4" fill="#00FDFF"/>
<circle cx="721.8" cy="873" r="4.4" fill="#00FDFF"/>
<circle cx="712.4" cy="920.4" r="4.4" fill="#00FDFF"/>
<path d="M754.27 873.5 V944.5 M746.77 873.5 H761.77 M746.77 944.5 H761.77" stroke="#00FDFF" stroke-width="1.7" stroke-linecap="butt" fill="none"/>
<circle cx="754.27" cy="873" r="4.4" fill="#00FDFF"/>
<circle cx="754.27" cy="898.7" r="4.4" fill="#00FDFF"/>
<circle cx="754.27" cy="907" r="4.4" fill="#00FDFF"/>
<circle cx="754.27" cy="958" r="4.4" fill="#00FDFF"/>
<path d="M796.05 869.4 V965.4 M788.55 869.4 H803.55 M788.55 965.4 H803.55" stroke="#00FDFF" stroke-width="1.7" stroke-linecap="butt" fill="none"/>
<circle cx="786.1" cy="888.3" r="4.4" fill="#00FDFF"/>
<circle cx="805.6" cy="887.1" r="4.4" fill="#00FDFF"/>
<circle cx="796" cy="906.1" r="4.4" fill="#00FDFF"/>
<circle cx="796" cy="988.6" r="4.4" fill="#00FDFF"/>
<path d="M837.83 783.4 V936.5 M830.33 783.4 H845.33 M830.33 936.5 H845.33" stroke="#00FDFF" stroke-width="1.7" stroke-linecap="butt" fill="none"/>
<circle cx="837.83" cy="762.3" r="4.4" fill="#00FDFF"/>
<circle cx="837.83" cy="837.9" r="4.4" fill="#00FDFF"/>
<circle cx="837.83" cy="913.1" r="4.4" fill="#00FDFF"/>
<circle cx="837.83" cy="927.4" r="4.4" fill="#00FDFF"/>
<path d="M879.61 772.2 V867.7 M872.11 772.2 H887.11 M872.11 867.7 H887.11" stroke="#00FDFF" stroke-width="1.7" stroke-linecap="butt" fill="none"/>
<circle cx="879.6" cy="754.4" r="4.4" fill="#00FDFF"/>
<circle cx="879.6" cy="814.4" r="4.4" fill="#00FDFF"/>
<circle cx="869.9" cy="858.5" r="4.4" fill="#00FDFF"/>
<circle cx="889.2" cy="852.5" r="4.4" fill="#00FDFF"/>
<path d="M921.39 843.7 V900.8 M913.89 843.7 H928.89 M913.89 900.8 H928.89" stroke="#00FDFF" stroke-width="1.7" stroke-linecap="butt" fill="none"/>
<circle cx="921.39" cy="836.9" r="4.4" fill="#00FDFF"/>
<circle cx="921.39" cy="868.2" r="4.4" fill="#00FDFF"/>
<circle cx="921.39" cy="876.8" r="4.4" fill="#00FDFF"/>
<circle cx="921.39" cy="906.5" r="4.4" fill="#00FDFF"/>
<path d="M963.17 805 V895.3 M955.67 805 H970.67 M955.67 895.3 H970.67" stroke="#00FDFF" stroke-width="1.7" stroke-linecap="butt" fill="none"/>
<circle cx="963.17" cy="812.6" r="4.4" fill="#00FDFF"/>
<circle cx="963.17" cy="824.9" r="4.4" fill="#00FDFF"/>
<circle cx="963.17" cy="848.9" r="4.4" fill="#00FDFF"/>
<circle cx="963.17" cy="913.3" r="4.4" fill="#00FDFF"/>
<path d="M1004.95 847.3 V930 M997.45 847.3 H1012.45 M997.45 930 H1012.45" stroke="#00FDFF" stroke-width="1.7" stroke-linecap="butt" fill="none"/>
<circle cx="1004.95" cy="851.2" r="4.4" fill="#00FDFF"/>
<circle cx="1004.95" cy="867.4" r="4.4" fill="#00FDFF"/>
<circle cx="1004.95" cy="890.1" r="4.4" fill="#00FDFF"/>
<circle cx="1004.95" cy="946.2" r="4.4" fill="#00FDFF"/>
<path d="M1046.73 926.1 V949.8 M1039.23 926.1 H1054.23 M1039.23 949.8 H1054.23" stroke="#00FDFF" stroke-width="1.7" stroke-linecap="butt" fill="none"/>
<circle cx="1046.5" cy="922.2" r="4.4" fill="#00FDFF"/>
<circle cx="1046.5" cy="935.2" r="4.4" fill="#00FDFF"/>
<circle cx="1036.9" cy="949.6" r="4.4" fill="#00FDFF"/>
<circle cx="1056.2" cy="944.4" r="4.4" fill="#00FDFF"/>
<path d="M1088.51 768 V913.3 M1081.01 768 H1096.01 M1081.01 913.3 H1096.01" stroke="#00FDFF" stroke-width="1.7" stroke-linecap="butt" fill="none"/>
<circle cx="1088.3" cy="793.8" r="4.4" fill="#00FDFF"/>
<circle cx="1078.6" cy="809.5" r="4.4" fill="#00FDFF"/>
<circle cx="1097.9" cy="810" r="4.4" fill="#00FDFF"/>
<circle cx="1088.3" cy="948.8" r="4.4" fill="#00FDFF"/>
<path d="M1130.29 873.9 V917.5 M1122.79 873.9 H1137.79 M1122.79 917.5 H1137.79" stroke="#00FDFF" stroke-width="1.7" stroke-linecap="butt" fill="none"/>
<circle cx="1130.29" cy="868.2" r="4.4" fill="#00FDFF"/>
<circle cx="1130.29" cy="889.1" r="4.4" fill="#00FDFF"/>
<circle cx="1130.29" cy="907.6" r="4.4" fill="#00FDFF"/>
<circle cx="1130.29" cy="918.5" r="4.4" fill="#00FDFF"/>
<line x1="140.1" y1="1117.6" x2="1158.3" y2="1117.6" stroke="#000" stroke-width="4" stroke-linecap="butt"/>
<line x1="169.35" y1="1117.6" x2="169.35" y2="1132" stroke="#000" stroke-width="3.6" stroke-linecap="butt"/>
<text transform="translate(173.45,1151.6) rotate(-45) scale(0.9700,1) translate(-95.2,0)" fill="#000" stroke="#000"><tspan font-size="24">No LysP</tspan></text>
<line x1="211.13" y1="1117.6" x2="211.13" y2="1132" stroke="#000" stroke-width="3.6" stroke-linecap="butt"/>
<text transform="translate(215.23,1151.6) rotate(-45) scale(0.9700,1) translate(-193.72,0)" fill="#000" stroke="#000"><tspan font-size="24">Proteoliposomes</tspan></text>
<line x1="252.91" y1="1117.6" x2="252.91" y2="1132" stroke="#000" stroke-width="3.6" stroke-linecap="butt"/>
<text transform="translate(257.01,1151.6) rotate(-45) scale(0.9700,1) translate(-89.87,0)" fill="#000" stroke="#000"><tspan font-size="24">L-lysine</tspan></text>
<line x1="294.69" y1="1117.6" x2="294.69" y2="1132" stroke="#000" stroke-width="3.6" stroke-linecap="butt"/>
<text transform="translate(298.79,1151.6) rotate(-45) scale(0.9700,1) translate(-153.88,0)" fill="#000" stroke="#000"><tspan font-size="24">L-4-thialysine</tspan></text>
<line x1="336.47" y1="1117.6" x2="336.47" y2="1132" stroke="#000" stroke-width="3.6" stroke-linecap="butt"/>
<text transform="translate(340.57,1151.6) rotate(-45) scale(0.9700,1) translate(-92.54,0)" fill="#000" stroke="#000"><tspan font-size="24">D-lysine</tspan></text>
<line x1="378.25" y1="1117.6" x2="378.25" y2="1132" stroke="#000" stroke-width="3.6" stroke-linecap="butt"/>
<text transform="translate(382.35,1151.6) rotate(-45) scale(0.9700,1) translate(-96.52,0)" fill="#000" stroke="#000"><tspan font-size="24">Arginine</tspan></text>
<line x1="420.03" y1="1117.6" x2="420.03" y2="1132" stroke="#000" stroke-width="3.6" stroke-linecap="butt"/>
<text transform="translate(424.13,1151.6) rotate(-45) scale(0.9700,1) translate(-85.86,0)" fill="#000" stroke="#000"><tspan font-size="24">Alanine</tspan></text>
<line x1="461.81" y1="1117.6" x2="461.81" y2="1132" stroke="#000" stroke-width="3.6" stroke-linecap="butt"/>
<text transform="translate(465.91,1151.6) rotate(-45) scale(0.9700,1) translate(-129.89,0)" fill="#000" stroke="#000"><tspan font-size="24">Asparagine</tspan></text>
<line x1="503.59" y1="1117.6" x2="503.59" y2="1132" stroke="#000" stroke-width="3.6" stroke-linecap="butt"/>
<text transform="translate(507.69,1151.6) rotate(-45) scale(0.9700,1) translate(-149.14,0)" fill="#000" stroke="#000"><tspan font-size="24">Aspartic acid</tspan></text>
<line x1="545.37" y1="1117.6" x2="545.37" y2="1132" stroke="#000" stroke-width="3.6" stroke-linecap="butt"/>
<text transform="translate(549.47,1151.6) rotate(-45) scale(0.9700,1) translate(-99.22,0)" fill="#000" stroke="#000"><tspan font-size="24">Cysteine</tspan></text>
<line x1="587.15" y1="1117.6" x2="587.15" y2="1132" stroke="#000" stroke-width="3.6" stroke-linecap="butt"/>
<text transform="translate(591.25,1151.6) rotate(-45) scale(0.9700,1) translate(-155.8,0)" fill="#000" stroke="#000"><tspan font-size="24">Glutamic acid</tspan></text>
<line x1="628.93" y1="1117.6" x2="628.93" y2="1132" stroke="#000" stroke-width="3.6" stroke-linecap="butt"/>
<text transform="translate(633.03,1151.6) rotate(-45) scale(0.9700,1) translate(-116.53,0)" fill="#000" stroke="#000"><tspan font-size="24">Glutamine</tspan></text>
<line x1="670.71" y1="1117.6" x2="670.71" y2="1132" stroke="#000" stroke-width="3.6" stroke-linecap="butt"/>
<text transform="translate(674.81,1151.6) rotate(-45) scale(0.9700,1) translate(-85.89,0)" fill="#000" stroke="#000"><tspan font-size="24">Glycine</tspan></text>
<line x1="712.49" y1="1117.6" x2="712.49" y2="1132" stroke="#000" stroke-width="3.6" stroke-linecap="butt"/>
<text transform="translate(716.59,1151.6) rotate(-45) scale(0.9700,1) translate(-100.52,0)" fill="#000" stroke="#000"><tspan font-size="24">Histidine</tspan></text>
<line x1="754.27" y1="1117.6" x2="754.27" y2="1132" stroke="#000" stroke-width="3.6" stroke-linecap="butt"/>
<text transform="translate(758.37,1151.6) rotate(-45) scale(0.9700,1) translate(-116.55,0)" fill="#000" stroke="#000"><tspan font-size="24">Isoleucine</tspan></text>
<line x1="796.05" y1="1117.6" x2="796.05" y2="1132" stroke="#000" stroke-width="3.6" stroke-linecap="butt"/>
<text transform="translate(800.15,1151.6) rotate(-45) scale(0.9700,1) translate(-89.87,0)" fill="#000" stroke="#000"><tspan font-size="24">Leucine</tspan></text>
<line x1="837.83" y1="1117.6" x2="837.83" y2="1132" stroke="#000" stroke-width="3.6" stroke-linecap="butt"/>
<text transform="translate(841.93,1151.6) rotate(-45) scale(0.9700,1) translate(-125.84,0)" fill="#000" stroke="#000"><tspan font-size="24">Methionine</tspan></text>
<line x1="879.61" y1="1117.6" x2="879.61" y2="1132" stroke="#000" stroke-width="3.6" stroke-linecap="butt"/>
<text transform="translate(883.71,1151.6) rotate(-45) scale(0.9700,1) translate(-80.53,0)" fill="#000" stroke="#000"><tspan font-size="24">Proline</tspan></text>
<line x1="921.39" y1="1117.6" x2="921.39" y2="1132" stroke="#000" stroke-width="3.6" stroke-linecap="butt"/>
<text transform="translate(925.49,1151.6) rotate(-45) scale(0.9700,1) translate(-160.57,0)" fill="#000" stroke="#000"><tspan font-size="24">Phenylalanine</tspan></text>
<line x1="963.17" y1="1117.6" x2="963.17" y2="1132" stroke="#000" stroke-width="3.6" stroke-linecap="butt"/>
<text transform="translate(967.27,1151.6) rotate(-45) scale(0.9700,1) translate(-72.55,0)" fill="#000" stroke="#000"><tspan font-size="24">Serine</tspan></text>
<line x1="1004.95" y1="1117.6" x2="1004.95" y2="1132" stroke="#000" stroke-width="3.6" stroke-linecap="butt"/>
<text transform="translate(1009.05,1151.6) rotate(-45) scale(0.9700,1) translate(-115.18,0)" fill="#000" stroke="#000"><tspan font-size="24">Threonine</tspan></text>
<line x1="1046.73" y1="1117.6" x2="1046.73" y2="1132" stroke="#000" stroke-width="3.6" stroke-linecap="butt"/>
<text transform="translate(1050.83,1151.6) rotate(-45) scale(0.9700,1) translate(-99.21,0)" fill="#000" stroke="#000"><tspan font-size="24">Tyrosine</tspan></text>
<line x1="1088.51" y1="1117.6" x2="1088.51" y2="1132" stroke="#000" stroke-width="3.6" stroke-linecap="butt"/>
<text transform="translate(1092.61,1151.6) rotate(-45) scale(0.9700,1) translate(-130.5,0)" fill="#000" stroke="#000"><tspan font-size="24">Tryptophan</tspan></text>
<line x1="1130.29" y1="1117.6" x2="1130.29" y2="1132" stroke="#000" stroke-width="3.6" stroke-linecap="butt"/>
<text transform="translate(1134.39,1151.6) rotate(-45) scale(0.9700,1) translate(-69.88,0)" fill="#000" stroke="#000"><tspan font-size="24">Valine</tspan></text>
<text transform="translate(589.24,1313.1) scale(1.0217,1)" fill="#000" stroke="#000"><tspan font-size="22">Amino acid</tspan></text>
<g transform="translate(1011.3,758.8)">
<ellipse cx="245.9" cy="156.6" rx="82.4" ry="74.9" fill="none" stroke="#E36C09" stroke-width="10" filter="url(#sh)"/>
<rect x="197.35" y="50.25" width="98.1" height="84.2" rx="11" fill="#0070C0" stroke="#000" stroke-width="2.5" filter="url(#sh)"/>
<line x1="196.2" y1="28.4" x2="196.2" y2="152" stroke="#0070C0" stroke-width="2.6"/>
<path d="M188.3 150.6 L204.1 150.6 L196.2 166.8 Z" fill="#0070C0"/>
<line x1="295.7" y1="163.3" x2="295.7" y2="39" stroke="#000" stroke-width="2.6"/>
<path d="M287.9 40.8 L303.9 40.8 L295.9 25.3 Z" fill="#000"/>
</g>
<text transform="translate(1231.06,859.2) scale(0.9809,1)" fill="#fff" stroke="#fff"><tspan font-size="22">LysP</tspan></text>
<text transform="translate(1204.62,952.3) scale(1.0067,1)" fill="#000" stroke="#000"><tspan font-size="26.5">L-Lysine</tspan></text>
<text transform="translate(1198.91,718.8) scale(0.9941,1)" fill="#000" stroke="#000"><tspan font-size="17">3</tspan></text>
<text transform="translate(1208.32,727.5) scale(0.9888,1)" fill="#000" stroke="#000"><tspan font-size="26.9">H-Lysine +</tspan></text>
<text transform="translate(1152.02,768.7) scale(0.9900,1)" fill="#FF0000" stroke="#FF0000"><tspan font-size="27">10 mM amino acid</tspan></text>
<text transform="translate(24.62,1416.6) scale(1.0883,1)" fill="#000" stroke="#000"><tspan font-size="31">d</tspan></text>
<line x1="223.5" y1="1444.1" x2="223.5" y2="1792.6" stroke="#000" stroke-width="3.2" stroke-linecap="butt"/>
<line x1="212.1" y1="1791.3" x2="223.5" y2="1791.3" stroke="#000" stroke-width="3.2" stroke-linecap="butt"/>
<text transform="translate(163.49,1800.3) scale(1.0000,1)" fill="#000" stroke="#000"><tspan font-size="26.4">955</tspan></text>
<line x1="212.1" y1="1722.2" x2="223.5" y2="1722.2" stroke="#000" stroke-width="3.2" stroke-linecap="butt"/>
<text transform="translate(163.84,1731.2) scale(1.0000,1)" fill="#000" stroke="#000"><tspan font-size="26.4">960</tspan></text>
<line x1="212.1" y1="1653.1" x2="223.5" y2="1653.1" stroke="#000" stroke-width="3.2" stroke-linecap="butt"/>
<text transform="translate(163.49,1662.1) scale(1.0000,1)" fill="#000" stroke="#000"><tspan font-size="26.4">965</tspan></text>
<line x1="212.1" y1="1584" x2="223.5" y2="1584" stroke="#000" stroke-width="3.2" stroke-linecap="butt"/>
<text transform="translate(163.84,1593) scale(1.0000,1)" fill="#000" stroke="#000"><tspan font-size="26.4">970</tspan></text>
<line x1="212.1" y1="1514.9" x2="223.5" y2="1514.9" stroke="#000" stroke-width="3.2" stroke-linecap="butt"/>
<text transform="translate(163.49,1523.9) scale(1.0000,1)" fill="#000" stroke="#000"><tspan font-size="26.4">975</tspan></text>
<line x1="212.1" y1="1445.8" x2="223.5" y2="1445.8" stroke="#000" stroke-width="3.2" stroke-linecap="butt"/>
<text transform="translate(163.84,1454.8) scale(1.0000,1)" fill="#000" stroke="#000"><tspan font-size="26.4">980</tspan></text>
<line x1="222" y1="1790.9" x2="634.7" y2="1790.9" stroke="#000" stroke-width="3.5" stroke-linecap="butt"/>
<line x1="254.3" y1="1790.9" x2="254.3" y2="1801.7" stroke="#000" stroke-width="3.2" stroke-linecap="butt"/>
<line x1="359.3" y1="1790.9" x2="359.3" y2="1801.7" stroke="#000" stroke-width="3.2" stroke-linecap="butt"/>
<line x1="464.3" y1="1790.9" x2="464.3" y2="1801.7" stroke="#000" stroke-width="3.2" stroke-linecap="butt"/>
<line x1="569.3" y1="1790.9" x2="569.3" y2="1801.7" stroke="#000" stroke-width="3.2" stroke-linecap="butt"/>
<line x1="222.69" y1="1790.9" x2="222.69" y2="1796.6" stroke="#000" stroke-width="2.6" stroke-linecap="butt"/>
<line x1="231.01" y1="1790.9" x2="231.01" y2="1796.6" stroke="#000" stroke-width="2.6" stroke-linecap="butt"/>
<line x1="238.04" y1="1790.9" x2="238.04" y2="1796.6" stroke="#000" stroke-width="2.6" stroke-linecap="butt"/>
<line x1="244.12" y1="1790.9" x2="244.12" y2="1796.6" stroke="#000" stroke-width="2.6" stroke-linecap="butt"/>
<line x1="249.5" y1="1790.9" x2="249.5" y2="1796.6" stroke="#000" stroke-width="2.6" stroke-linecap="butt"/>
<line x1="285.91" y1="1790.9" x2="285.91" y2="1796.6" stroke="#000" stroke-width="2.6" stroke-linecap="butt"/>
<line x1="304.4" y1="1790.9" x2="304.4" y2="1796.6" stroke="#000" stroke-width="2.6" stroke-linecap="butt"/>
<line x1="317.52" y1="1790.9" x2="317.52" y2="1796.6" stroke="#000" stroke-width="2.6" stroke-linecap="butt"/>
<line x1="327.69" y1="1790.9" x2="327.69" y2="1796.6" stroke="#000" stroke-width="2.6" stroke-linecap="butt"/>
<line x1="336.01" y1="1790.9" x2="336.01" y2="1796.6" stroke="#000" stroke-width="2.6" stroke-linecap="butt"/>
<line x1="343.04" y1="1790.9" x2="343.04" y2="1796.6" stroke="#000" stroke-width="2.6" stroke-linecap="butt"/>
<line x1="349.12" y1="1790.9" x2="349.12" y2="1796.6" stroke="#000" stroke-width="2.6" stroke-linecap="butt"/>
<line x1="354.5" y1="1790.9" x2="354.5" y2="1796.6" stroke="#000" stroke-width="2.6" stroke-linecap="butt"/>
<line x1="390.91" y1="1790.9" x2="390.91" y2="1796.6" stroke="#000" stroke-width="2.6" stroke-linecap="butt"/>
<line x1="409.4" y1="1790.9" x2="409.4" y2="1796.6" stroke="#000" stroke-width="2.6" stroke-linecap="butt"/>
<line x1="422.52" y1="1790.9" x2="422.52" y2="1796.6" stroke="#000" stroke-width="2.6" stroke-linecap="butt"/>
<line x1="432.69" y1="1790.9" x2="432.69" y2="1796.6" stroke="#000" stroke-width="2.6" stroke-linecap="butt"/>
<line x1="441.01" y1="1790.9" x2="441.01" y2="1796.6" stroke="#000" stroke-width="2.6" stroke-linecap="butt"/>
<line x1="448.04" y1="1790.9" x2="448.04" y2="1796.6" stroke="#000" stroke-width="2.6" stroke-linecap="butt"/>
<line x1="454.12" y1="1790.9" x2="454.12" y2="1796.6" stroke="#000" stroke-width="2.6" stroke-linecap="butt"/>
<line x1="459.5" y1="1790.9" x2="459.5" y2="1796.6" stroke="#000" stroke-width="2.6" stroke-linecap="butt"/>
<line x1="495.91" y1="1790.9" x2="495.91" y2="1796.6" stroke="#000" stroke-width="2.6" stroke-linecap="butt"/>
<line x1="514.4" y1="1790.9" x2="514.4" y2="1796.6" stroke="#000" stroke-width="2.6" stroke-linecap="butt"/>
<line x1="527.52" y1="1790.9" x2="527.52" y2="1796.6" stroke="#000" stroke-width="2.6" stroke-linecap="butt"/>
<line x1="537.69" y1="1790.9" x2="537.69" y2="1796.6" stroke="#000" stroke-width="2.6" stroke-linecap="butt"/>
<line x1="546.01" y1="1790.9" x2="546.01" y2="1796.6" stroke="#000" stroke-width="2.6" stroke-linecap="butt"/>
<line x1="553.04" y1="1790.9" x2="553.04" y2="1796.6" stroke="#000" stroke-width="2.6" stroke-linecap="butt"/>
<line x1="559.12" y1="1790.9" x2="559.12" y2="1796.6" stroke="#000" stroke-width="2.6" stroke-linecap="butt"/>
<line x1="564.5" y1="1790.9" x2="564.5" y2="1796.6" stroke="#000" stroke-width="2.6" stroke-linecap="butt"/>
<line x1="600.91" y1="1790.9" x2="600.91" y2="1796.6" stroke="#000" stroke-width="2.6" stroke-linecap="butt"/>
<line x1="619.4" y1="1790.9" x2="619.4" y2="1796.6" stroke="#000" stroke-width="2.6" stroke-linecap="butt"/>
<line x1="632.52" y1="1790.9" x2="632.52" y2="1796.6" stroke="#000" stroke-width="2.6" stroke-linecap="butt"/>
<text transform="translate(233.49,1833.9) scale(1.0000,1)" fill="#000" stroke="#000"><tspan font-size="24.2">10</tspan></text>
<text transform="translate(260.37,1824.5) scale(1.0000,1)" fill="#000" stroke="#000"><tspan font-size="16.5">-1</tspan></text>
<text transform="translate(341.35,1833.9) scale(1.0000,1)" fill="#000" stroke="#000"><tspan font-size="24.2">10</tspan></text>
<text transform="translate(368.22,1824.5) scale(1.0000,1)" fill="#000" stroke="#000"><tspan font-size="16.5">0</tspan></text>
<text transform="translate(446.44,1833.9) scale(1.0000,1)" fill="#000" stroke="#000"><tspan font-size="24.2">10</tspan></text>
<text transform="translate(472.92,1824.5) scale(1.0000,1)" fill="#000" stroke="#000"><tspan font-size="16.5">1</tspan></text>
<text transform="translate(551.3,1833.9) scale(1.0000,1)" fill="#000" stroke="#000"><tspan font-size="24.2">10</tspan></text>
<text transform="translate(578.26,1824.5) scale(1.0000,1)" fill="#000" stroke="#000"><tspan font-size="16.5">2</tspan></text>
<text transform="translate(285.87,1869.5) scale(1.0237,1)" fill="#000" stroke="#000"><tspan font-size="25.2">Log concentration (</tspan><tspan font-size="25.2" font-weight="normal">µ</tspan><tspan font-size="25.2">M)</tspan></text>
<text transform="translate(144.4,1715.74) rotate(-90) scale(0.9451,1)" fill="#000" stroke="#000"><tspan font-size="27.5">F</tspan><tspan font-size="20" dy="7.7">norm</tspan><tspan font-size="27.5" dy="-7.7"> (arb. units)</tspan></text>
<line x1="236.5" y1="1441.7" x2="268.4" y2="1441.7" stroke="#0433FF" stroke-width="3.2" stroke-linecap="butt"/>
<circle cx="252.5" cy="1441.7" r="6.5" fill="#0433FF"/>
<text transform="translate(283.48,1451.4) scale(0.9727,1)" fill="#000" stroke="#000"><tspan font-size="26.5">L-lysine</tspan></text>
<line x1="236.5" y1="1480.1" x2="268.4" y2="1480.1" stroke="#00F900" stroke-width="3.2" stroke-linecap="butt"/>
<rect x="245.6" y="1473.3" width="13.6" height="13.6" fill="#00F900"/>
<text transform="translate(283.48,1489.7) scale(0.9720,1)" fill="#000" stroke="#000"><tspan font-size="26.5">L-arginine</tspan></text>
<path d="M254.3 1652.24 L256.4 1652.2 L258.5 1652.15 L260.6 1652.1 L262.7 1652.04 L264.8 1651.98 L266.9 1651.92 L269 1651.86 L271.1 1651.79 L273.2 1651.72 L275.3 1651.65 L277.4 1651.57 L279.5 1651.49 L281.6 1651.4 L283.7 1651.31 L285.8 1651.22 L287.9 1651.12 L290 1651.01 L292.1 1650.9 L294.2 1650.78 L296.3 1650.66 L298.4 1650.53 L300.5 1650.39 L302.6 1650.24 L304.7 1650.09 L306.8 1649.93 L308.9 1649.77 L311 1649.59 L313.1 1649.4 L315.2 1649.21 L317.3 1649.01 L319.4 1648.79 L321.5 1648.56 L323.6 1648.33 L325.7 1648.08 L327.8 1647.82 L329.9 1647.54 L332 1647.25 L334.1 1646.95 L336.2 1646.63 L338.3 1646.3 L340.4 1645.95 L342.5 1645.59 L344.6 1645.2 L346.7 1644.8 L348.8 1644.38 L350.9 1643.94 L353 1643.48 L355.1 1643 L357.2 1642.5 L359.3 1641.97 L361.4 1641.42 L363.5 1640.85 L365.6 1640.25 L367.7 1639.63 L369.8 1638.98 L371.9 1638.3 L374 1637.6 L376.1 1636.86 L378.2 1636.1 L380.3 1635.3 L382.4 1634.48 L384.5 1633.62 L386.6 1632.73 L388.7 1631.81 L390.8 1630.86 L392.9 1629.88 L395 1628.86 L397.1 1627.8 L399.2 1626.72 L401.3 1625.59 L403.4 1624.44 L405.5 1623.25 L407.6 1622.03 L409.7 1620.77 L411.8 1619.48 L413.9 1618.16 L416 1616.81 L418.1 1615.43 L420.2 1614.02 L422.3 1612.58 L424.4 1611.11 L426.5 1609.61 L428.6 1608.1 L430.7 1606.55 L432.8 1604.99 L434.9 1603.41 L437 1601.81 L439.1 1600.19 L441.2 1598.56 L443.3 1596.92 L445.4 1595.27 L447.5 1593.61 L449.6 1591.95 L451.7 1590.29 L453.8 1588.62 L455.9 1586.96 L458 1585.3 L460.1 1583.65 L462.2 1582.01 L464.3 1580.38 L466.4 1578.76 L468.5 1577.16 L470.6 1575.57 L472.7 1574.01 L474.8 1572.47 L476.9 1570.95 L479 1569.45 L481.1 1567.98 L483.2 1566.54 L485.3 1565.12 L487.4 1563.74 L489.5 1562.38 L491.6 1561.06 L493.7 1559.77 L495.8 1558.51 L497.9 1557.29 L500 1556.09 L502.1 1554.94 L504.2 1553.81 L506.3 1552.72 L508.4 1551.67 L510.5 1550.64 L512.6 1549.66 L514.7 1548.7 L516.8 1547.78 L518.9 1546.89 L521 1546.03 L523.1 1545.2 L525.2 1544.4 L527.3 1543.64 L529.4 1542.9 L531.5 1542.19 L533.6 1541.51 L535.7 1540.86 L537.8 1540.24 L539.9 1539.63 L542 1539.06 L544.1 1538.51 L546.2 1537.98 L548.3 1537.48 L550.4 1536.99 L552.5 1536.53 L554.6 1536.09 L556.7 1535.67 L558.8 1535.27 L560.9 1534.88 L563 1534.52 L565.1 1534.17 L567.2 1533.83 L569.3 1533.51" fill="none" stroke="#0433FF" stroke-width="3" stroke-linejoin="round"/>
<path d="M254.3 1694.57 L256.4 1694.57 L258.5 1694.57 L260.6 1694.57 L262.7 1694.57 L264.8 1694.57 L266.9 1694.57 L269 1694.58 L271.1 1694.58 L273.2 1694.58 L275.3 1694.58 L277.4 1694.58 L279.5 1694.58 L281.6 1694.58 L283.7 1694.58 L285.8 1694.58 L287.9 1694.59 L290 1694.59 L292.1 1694.59 L294.2 1694.59 L296.3 1694.59 L298.4 1694.59 L300.5 1694.6 L302.6 1694.6 L304.7 1694.6 L306.8 1694.6 L308.9 1694.6 L311 1694.61 L313.1 1694.61 L315.2 1694.61 L317.3 1694.61 L319.4 1694.62 L321.5 1694.62 L323.6 1694.62 L325.7 1694.63 L327.8 1694.63 L329.9 1694.64 L332 1694.64 L334.1 1694.64 L336.2 1694.65 L338.3 1694.65 L340.4 1694.66 L342.5 1694.67 L344.6 1694.67 L346.7 1694.68 L348.8 1694.68 L350.9 1694.69 L353 1694.7 L355.1 1694.71 L357.2 1694.72 L359.3 1694.72 L361.4 1694.73 L363.5 1694.74 L365.6 1694.75 L367.7 1694.76 L369.8 1694.78 L371.9 1694.79 L374 1694.8 L376.1 1694.82 L378.2 1694.83 L380.3 1694.84 L382.4 1694.86 L384.5 1694.88 L386.6 1694.9 L388.7 1694.91 L390.8 1694.93 L392.9 1694.96 L395 1694.98 L397.1 1695 L399.2 1695.03 L401.3 1695.05 L403.4 1695.08 L405.5 1695.11 L407.6 1695.14 L409.7 1695.17 L411.8 1695.21 L413.9 1695.24 L416 1695.28 L418.1 1695.32 L420.2 1695.36 L422.3 1695.41 L424.4 1695.46 L426.5 1695.51 L428.6 1695.56 L430.7 1695.61 L432.8 1695.67 L434.9 1695.73 L437 1695.8 L439.1 1695.87 L441.2 1695.94 L443.3 1696.01 L445.4 1696.09 L447.5 1696.18 L449.6 1696.26 L451.7 1696.36 L453.8 1696.45 L455.9 1696.56 L458 1696.66 L460.1 1696.78 L462.2 1696.9 L464.3 1697.02 L466.4 1697.15 L468.5 1697.29 L470.6 1697.43 L472.7 1697.59 L474.8 1697.74 L476.9 1697.91 L479 1698.08 L481.1 1698.27 L483.2 1698.46 L485.3 1698.66 L487.4 1698.87 L489.5 1699.08 L491.6 1699.31 L493.7 1699.55 L495.8 1699.8 L497.9 1700.05 L500 1700.32 L502.1 1700.6 L504.2 1700.89 L506.3 1701.2 L508.4 1701.51 L510.5 1701.84 L512.6 1702.17 L514.7 1702.52 L516.8 1702.88 L518.9 1703.26 L521 1703.64 L523.1 1704.04 L525.2 1704.45 L527.3 1704.87 L529.4 1705.31 L531.5 1705.75 L533.6 1706.21 L535.7 1706.68 L537.8 1707.16 L539.9 1707.65 L542 1708.15 L544.1 1708.66 L546.2 1709.18 L548.3 1709.7 L550.4 1710.24 L552.5 1710.78 L554.6 1711.33 L556.7 1711.88 L558.8 1712.44 L560.9 1713.01 L563 1713.58 L565.1 1714.15 L567.2 1714.72 L569.3 1715.29" fill="none" stroke="#00F900" stroke-width="3" stroke-linejoin="round"/>
<path d="M254.3 1673 V1703.6 M247.7 1673 H260.9 M247.7 1703.6 H260.9" stroke="#00F900" stroke-width="1.8" stroke-linecap="round" fill="none"/>
<rect x="247.7" y="1681.6" width="13.2" height="13.2" fill="#00F900"/>
<path d="M285.4 1678.1 V1718.8 M278.8 1678.1 H292 M278.8 1718.8 H292" stroke="#00F900" stroke-width="1.8" stroke-linecap="round" fill="none"/>
<rect x="278.8" y="1691.4" width="13.2" height="13.2" fill="#00F900"/>
<path d="M317 1673.5 V1728.3 M310.4 1673.5 H323.6 M310.4 1728.3 H323.6" stroke="#00F900" stroke-width="1.8" stroke-linecap="round" fill="none"/>
<rect x="310.4" y="1694.3" width="13.2" height="13.2" fill="#00F900"/>
<path d="M348.8 1650.8 V1711.3 M342.2 1650.8 H355.4 M342.2 1711.3 H355.4" stroke="#00F900" stroke-width="1.8" stroke-linecap="round" fill="none"/>
<rect x="342.2" y="1674.7" width="13.2" height="13.2" fill="#00F900"/>
<path d="M380.4 1691.8 V1736.1 M373.8 1691.8 H387 M373.8 1736.1 H387" stroke="#00F900" stroke-width="1.8" stroke-linecap="round" fill="none"/>
<rect x="373.8" y="1707.8" width="13.2" height="13.2" fill="#00F900"/>
<path d="M412.2 1657.8 V1708.7 M405.6 1657.8 H418.8 M405.6 1708.7 H418.8" stroke="#00F900" stroke-width="1.8" stroke-linecap="round" fill="none"/>
<rect x="405.6" y="1677.3" width="13.2" height="13.2" fill="#00F900"/>
<path d="M443.5 1674.8 V1716 M436.9 1674.8 H450.1 M436.9 1716 H450.1" stroke="#00F900" stroke-width="1.8" stroke-linecap="round" fill="none"/>
<rect x="436.9" y="1688.5" width="13.2" height="13.2" fill="#00F900"/>
<path d="M475.3 1644 V1717.8 M468.7 1644 H481.9 M468.7 1717.8 H481.9" stroke="#00F900" stroke-width="1.8" stroke-linecap="round" fill="none"/>
<rect x="468.7" y="1674.2" width="13.2" height="13.2" fill="#00F900"/>
<path d="M507.4 1677.9 V1740 M500.8 1677.9 H514 M500.8 1740 H514" stroke="#00F900" stroke-width="1.8" stroke-linecap="round" fill="none"/>
<rect x="500.8" y="1702.9" width="13.2" height="13.2" fill="#00F900"/>
<path d="M538.7 1683.1 V1735.6 M532.1 1683.1 H545.3 M532.1 1735.6 H545.3" stroke="#00F900" stroke-width="1.8" stroke-linecap="round" fill="none"/>
<rect x="532.1" y="1702.9" width="13.2" height="13.2" fill="#00F900"/>
<path d="M570.8 1693.1 V1734.3 M564.2 1693.1 H577.4 M564.2 1734.3 H577.4" stroke="#00F900" stroke-width="1.8" stroke-linecap="round" fill="none"/>
<rect x="564.2" y="1707.3" width="13.2" height="13.2" fill="#00F900"/>
<path d="M254.3 1633.5 V1668.9 M247.7 1633.5 H260.9 M247.7 1668.9 H260.9" stroke="#0433FF" stroke-width="1.8" stroke-linecap="round" fill="none"/>
<circle cx="254.3" cy="1651" r="6.7" fill="#0433FF"/>
<path d="M285.4 1631.4 V1677.3 M278.8 1631.4 H292 M278.8 1677.3 H292" stroke="#0433FF" stroke-width="1.8" stroke-linecap="round" fill="none"/>
<circle cx="285.4" cy="1654.2" r="6.7" fill="#0433FF"/>
<path d="M317 1652.6 V1663 M310.4 1652.6 H323.6 M310.4 1663 H323.6" stroke="#0433FF" stroke-width="1.8" stroke-linecap="round" fill="none"/>
<circle cx="317" cy="1657.8" r="6.7" fill="#0433FF"/>
<path d="M348.8 1624.7 V1650 M342.2 1624.7 H355.4 M342.2 1650 H355.4" stroke="#0433FF" stroke-width="1.8" stroke-linecap="round" fill="none"/>
<circle cx="348.8" cy="1636.4" r="6.7" fill="#0433FF"/>
<path d="M380.4 1610.9 V1630.4 M373.8 1610.9 H387 M373.8 1630.4 H387" stroke="#0433FF" stroke-width="1.8" stroke-linecap="round" fill="none"/>
<circle cx="380.4" cy="1620.8" r="6.7" fill="#0433FF"/>
<path d="M412.2 1610.1 V1634.9 M405.6 1610.1 H418.8 M405.6 1634.9 H418.8" stroke="#0433FF" stroke-width="1.8" stroke-linecap="round" fill="none"/>
<circle cx="412.2" cy="1622.1" r="6.7" fill="#0433FF"/>
<path d="M443.5 1594.8 V1600.8 M436.9 1594.8 H450.1 M436.9 1600.8 H450.1" stroke="#0433FF" stroke-width="1.8" stroke-linecap="round" fill="none"/>
<circle cx="443.5" cy="1597.8" r="6.7" fill="#0433FF"/>
<path d="M475.3 1557.9 V1575.1 M468.7 1557.9 H481.9 M468.7 1575.1 H481.9" stroke="#0433FF" stroke-width="1.8" stroke-linecap="round" fill="none"/>
<circle cx="475.3" cy="1566.5" r="6.7" fill="#0433FF"/>
<path d="M507.4 1541 V1557.9 M500.8 1541 H514 M500.8 1557.9 H514" stroke="#0433FF" stroke-width="1.8" stroke-linecap="round" fill="none"/>
<circle cx="507.4" cy="1549" r="6.7" fill="#0433FF"/>
<path d="M538.7 1515.7 V1540.4 M532.1 1515.7 H545.3 M532.1 1540.4 H545.3" stroke="#0433FF" stroke-width="1.8" stroke-linecap="round" fill="none"/>
<circle cx="538.7" cy="1527.4" r="6.7" fill="#0433FF"/>
<path d="M570.8 1518.8 V1541.7 M564.2 1518.8 H577.4 M564.2 1541.7 H577.4" stroke="#0433FF" stroke-width="1.8" stroke-linecap="round" fill="none"/>
<circle cx="570.8" cy="1530.5" r="6.7" fill="#0433FF"/>
<text transform="translate(448.63,1631.5) scale(0.9855,1)" fill="#0A55FF" stroke="#0A55FF"><tspan font-size="27" font-style="italic">K</tspan><tspan font-size="18.5" font-style="italic" dy="5.2">d</tspan><tspan font-size="27" dy="-5.2"> = 14 </tspan><tspan font-size="27" font-weight="normal">±</tspan><tspan font-size="27">  9 </tspan><tspan font-size="27" font-weight="normal">µ</tspan><tspan font-size="27">M</tspan></text>
<text transform="translate(421.21,1763.3) scale(1.0104,1)" fill="#00B050" stroke="#00B050"><tspan font-size="26.5">No binding</tspan></text>
<text transform="translate(727.31,1416.5) scale(1.0688,1)" fill="#000" stroke="#000"><tspan font-size="31">e</tspan></text>
<line x1="864.9" y1="1471.2" x2="864.9" y2="1796.3" stroke="#000" stroke-width="3.7" stroke-linecap="butt"/>
<line x1="858" y1="1758.2" x2="864.9" y2="1758.2" stroke="#000" stroke-width="3.6" stroke-linecap="butt"/>
<text transform="translate(809.49,1766.2) scale(1.0000,1)" fill="#000" stroke="#000"><tspan font-size="24.6">944</tspan></text>
<line x1="858" y1="1686.9" x2="864.9" y2="1686.9" stroke="#000" stroke-width="3.6" stroke-linecap="butt"/>
<text transform="translate(810.24,1694.9) scale(1.0000,1)" fill="#000" stroke="#000"><tspan font-size="24.6">946</tspan></text>
<line x1="858" y1="1615.6" x2="864.9" y2="1615.6" stroke="#000" stroke-width="3.6" stroke-linecap="butt"/>
<text transform="translate(810.11,1623.6) scale(1.0000,1)" fill="#000" stroke="#000"><tspan font-size="24.6">948</tspan></text>
<line x1="858" y1="1544.3" x2="864.9" y2="1544.3" stroke="#000" stroke-width="3.6" stroke-linecap="butt"/>
<text transform="translate(810.36,1552.3) scale(1.0000,1)" fill="#000" stroke="#000"><tspan font-size="24.6">950</tspan></text>
<line x1="858" y1="1473" x2="864.9" y2="1473" stroke="#000" stroke-width="3.6" stroke-linecap="butt"/>
<text transform="translate(810.34,1481) scale(1.0000,1)" fill="#000" stroke="#000"><tspan font-size="24.6">952</tspan></text>
<line x1="863" y1="1794.3" x2="1316.5" y2="1794.3" stroke="#000" stroke-width="4" stroke-linecap="butt"/>
<line x1="864.9" y1="1794.3" x2="864.9" y2="1800.4" stroke="#000" stroke-width="3.6" stroke-linecap="butt"/>
<line x1="1014.9" y1="1794.3" x2="1014.9" y2="1800.4" stroke="#000" stroke-width="3.6" stroke-linecap="butt"/>
<line x1="1164.9" y1="1794.3" x2="1164.9" y2="1800.4" stroke="#000" stroke-width="3.6" stroke-linecap="butt"/>
<line x1="1314.9" y1="1794.3" x2="1314.9" y2="1800.4" stroke="#000" stroke-width="3.6" stroke-linecap="butt"/>
<line x1="910.05" y1="1794.3" x2="910.05" y2="1798.8" stroke="#000" stroke-width="3.4" stroke-linecap="butt"/>
<line x1="936.47" y1="1794.3" x2="936.47" y2="1798.8" stroke="#000" stroke-width="3.4" stroke-linecap="butt"/>
<line x1="955.21" y1="1794.3" x2="955.21" y2="1798.8" stroke="#000" stroke-width="3.4" stroke-linecap="butt"/>
<line x1="969.75" y1="1794.3" x2="969.75" y2="1798.8" stroke="#000" stroke-width="3.4" stroke-linecap="butt"/>
<line x1="981.62" y1="1794.3" x2="981.62" y2="1798.8" stroke="#000" stroke-width="3.4" stroke-linecap="butt"/>
<line x1="991.66" y1="1794.3" x2="991.66" y2="1798.8" stroke="#000" stroke-width="3.4" stroke-linecap="butt"/>
<line x1="1000.36" y1="1794.3" x2="1000.36" y2="1798.8" stroke="#000" stroke-width="3.4" stroke-linecap="butt"/>
<line x1="1008.04" y1="1794.3" x2="1008.04" y2="1798.8" stroke="#000" stroke-width="3.4" stroke-linecap="butt"/>
<line x1="1060.05" y1="1794.3" x2="1060.05" y2="1798.8" stroke="#000" stroke-width="3.4" stroke-linecap="butt"/>
<line x1="1086.47" y1="1794.3" x2="1086.47" y2="1798.8" stroke="#000" stroke-width="3.4" stroke-linecap="butt"/>
<line x1="1105.21" y1="1794.3" x2="1105.21" y2="1798.8" stroke="#000" stroke-width="3.4" stroke-linecap="butt"/>
<line x1="1119.75" y1="1794.3" x2="1119.75" y2="1798.8" stroke="#000" stroke-width="3.4" stroke-linecap="butt"/>
<line x1="1131.62" y1="1794.3" x2="1131.62" y2="1798.8" stroke="#000" stroke-width="3.4" stroke-linecap="butt"/>
<line x1="1141.66" y1="1794.3" x2="1141.66" y2="1798.8" stroke="#000" stroke-width="3.4" stroke-linecap="butt"/>
<line x1="1150.36" y1="1794.3" x2="1150.36" y2="1798.8" stroke="#000" stroke-width="3.4" stroke-linecap="butt"/>
<line x1="1158.04" y1="1794.3" x2="1158.04" y2="1798.8" stroke="#000" stroke-width="3.4" stroke-linecap="butt"/>
<line x1="1210.05" y1="1794.3" x2="1210.05" y2="1798.8" stroke="#000" stroke-width="3.4" stroke-linecap="butt"/>
<line x1="1236.47" y1="1794.3" x2="1236.47" y2="1798.8" stroke="#000" stroke-width="3.4" stroke-linecap="butt"/>
<line x1="1255.21" y1="1794.3" x2="1255.21" y2="1798.8" stroke="#000" stroke-width="3.4" stroke-linecap="butt"/>
<line x1="1269.75" y1="1794.3" x2="1269.75" y2="1798.8" stroke="#000" stroke-width="3.4" stroke-linecap="butt"/>
<line x1="1281.62" y1="1794.3" x2="1281.62" y2="1798.8" stroke="#000" stroke-width="3.4" stroke-linecap="butt"/>
<line x1="1291.66" y1="1794.3" x2="1291.66" y2="1798.8" stroke="#000" stroke-width="3.4" stroke-linecap="butt"/>
<line x1="1300.36" y1="1794.3" x2="1300.36" y2="1798.8" stroke="#000" stroke-width="3.4" stroke-linecap="butt"/>
<line x1="1308.04" y1="1794.3" x2="1308.04" y2="1798.8" stroke="#000" stroke-width="3.4" stroke-linecap="butt"/>
<text transform="translate(845.95,1831.7) scale(1.0000,1)" fill="#000" stroke="#000"><tspan font-size="22">10</tspan></text>
<text transform="translate(870.53,1823.2) scale(1.0000,1)" fill="#000" stroke="#000"><tspan font-size="15">-2</tspan></text>
<text transform="translate(998.46,1831.7) scale(1.0000,1)" fill="#000" stroke="#000"><tspan font-size="22">10</tspan></text>
<text transform="translate(1023.03,1823.2) scale(1.0000,1)" fill="#000" stroke="#000"><tspan font-size="15">0</tspan></text>
<text transform="translate(1148.41,1831.7) scale(1.0000,1)" fill="#000" stroke="#000"><tspan font-size="22">10</tspan></text>
<text transform="translate(1173.06,1823.2) scale(1.0000,1)" fill="#000" stroke="#000"><tspan font-size="15">2</tspan></text>
<text transform="translate(1298.01,1831.7) scale(1.0000,1)" fill="#000" stroke="#000"><tspan font-size="22">10</tspan></text>
<text transform="translate(1322.95,1823.2) scale(1.0000,1)" fill="#000" stroke="#000"><tspan font-size="15">4</tspan></text>
<text transform="translate(955.48,1862.1) scale(1.0321,1)" fill="#000" stroke="#000"><tspan font-size="23.5">Log concentration (</tspan><tspan font-size="23.5" font-weight="normal">µ</tspan><tspan font-size="23.5">M)</tspan></text>
<text transform="translate(780.5,1724.82) rotate(-90) scale(0.9135,1)" fill="#000" stroke="#000"><tspan font-size="26.5">F</tspan><tspan font-size="19.5" dy="7">norm</tspan><tspan font-size="26.5" dy="-7"> (arb. units)</tspan></text>
<line x1="883.3" y1="1483.3" x2="913.7" y2="1483.3" stroke="#FA3A2C" stroke-width="3" stroke-linecap="butt"/>
<circle cx="898.7" cy="1483.3" r="5.4" fill="#FA3A2C"/>
<text transform="translate(928.49,1491.8) scale(0.9633,1)" fill="#000" stroke="#000"><tspan font-size="25">L-4-thialysine</tspan></text>
<path d="M915.5 1745.68 L917 1745.67 L918.5 1745.67 L920 1745.67 L921.5 1745.66 L923 1745.66 L924.5 1745.66 L926 1745.65 L927.5 1745.65 L929 1745.64 L930.5 1745.64 L932 1745.63 L933.5 1745.63 L935 1745.62 L936.5 1745.61 L938 1745.6 L939.5 1745.6 L941 1745.59 L942.5 1745.58 L944 1745.57 L945.5 1745.56 L947 1745.55 L948.5 1745.54 L950 1745.52 L951.5 1745.51 L953 1745.5 L954.5 1745.48 L956 1745.47 L957.5 1745.45 L959 1745.43 L960.5 1745.41 L962 1745.39 L963.5 1745.37 L965 1745.35 L966.5 1745.32 L968 1745.29 L969.5 1745.27 L971 1745.24 L972.5 1745.2 L974 1745.17 L975.5 1745.13 L977 1745.09 L978.5 1745.05 L980 1745.01 L981.5 1744.96 L983 1744.91 L984.5 1744.85 L986 1744.8 L987.5 1744.74 L989 1744.67 L990.5 1744.6 L992 1744.53 L993.5 1744.45 L995 1744.36 L996.5 1744.27 L998 1744.18 L999.5 1744.07 L1001 1743.97 L1002.5 1743.85 L1004 1743.73 L1005.5 1743.59 L1007 1743.45 L1008.5 1743.3 L1010 1743.15 L1011.5 1742.98 L1013 1742.8 L1014.5 1742.6 L1016 1742.4 L1017.5 1742.18 L1019 1741.95 L1020.5 1741.7 L1022 1741.44 L1023.5 1741.16 L1025 1740.87 L1026.5 1740.55 L1028 1740.22 L1029.5 1739.86 L1031 1739.48 L1032.5 1739.08 L1034 1738.65 L1035.5 1738.2 L1037 1737.72 L1038.5 1737.21 L1040 1736.67 L1041.5 1736.09 L1043 1735.48 L1044.5 1734.84 L1046 1734.15 L1047.5 1733.43 L1049 1732.66 L1050.5 1731.85 L1052 1730.99 L1053.5 1730.09 L1055 1729.13 L1056.5 1728.12 L1058 1727.06 L1059.5 1725.93 L1061 1724.75 L1062.5 1723.51 L1064 1722.2 L1065.5 1720.82 L1067 1719.38 L1068.5 1717.86 L1070 1716.27 L1071.5 1714.61 L1073 1712.87 L1074.5 1711.05 L1076 1709.16 L1077.5 1707.18 L1079 1705.12 L1080.5 1702.98 L1082 1700.76 L1083.5 1698.46 L1085 1696.08 L1086.5 1693.61 L1088 1691.07 L1089.5 1688.45 L1091 1685.75 L1092.5 1682.98 L1094 1680.14 L1095.5 1677.24 L1097 1674.27 L1098.5 1671.24 L1100 1668.16 L1101.5 1665.03 L1103 1661.86 L1104.5 1658.65 L1106 1655.41 L1107.5 1652.15 L1109 1648.87 L1110.5 1645.57 L1112 1642.27 L1113.5 1638.98 L1115 1635.69 L1116.5 1632.42 L1118 1629.17 L1119.5 1625.96 L1121 1622.77 L1122.5 1619.63 L1124 1616.53 L1125.5 1613.49 L1127 1610.5 L1128.5 1607.58 L1130 1604.72 L1131.5 1601.92 L1133 1599.21 L1134.5 1596.56 L1136 1593.99 L1137.5 1591.5 L1139 1589.09 L1140.5 1586.77 L1142 1584.52 L1143.5 1582.35 L1145 1580.27 L1146.5 1578.27 L1148 1576.35 L1149.5 1574.51 L1151 1572.74 L1152.5 1571.06 L1154 1569.44 L1155.5 1567.91 L1157 1566.44 L1158.5 1565.04 L1160 1563.71 L1161.5 1562.45 L1163 1561.24 L1164.5 1560.1 L1166 1559.02 L1167.5 1557.99 L1169 1557.02 L1170.5 1556.1 L1172 1555.23 L1173.5 1554.4 L1175 1553.62 L1176.5 1552.88 L1178 1552.19 L1179.5 1551.53 L1181 1550.91 L1182.5 1550.32 L1184 1549.77 L1185.5 1549.25 L1187 1548.76 L1188.5 1548.3 L1190 1547.86 L1191.5 1547.45 L1193 1547.07 L1194.5 1546.71 L1196 1546.36 L1197.5 1546.04 L1199 1545.74 L1200.5 1545.46 L1202 1545.19 L1203.5 1544.94 L1205 1544.7 L1206.5 1544.48 L1208 1544.27 L1209.5 1544.08 L1211 1543.89 L1212.5 1543.72 L1214 1543.56 L1215.5 1543.41 L1217 1543.26 L1218.5 1543.13 L1220 1543 L1221.5 1542.88 L1223 1542.77 L1224.5 1542.67 L1226 1542.57 L1227.5 1542.48 L1229 1542.39 L1230.5 1542.31 L1232 1542.24 L1233.5 1542.17 L1235 1542.1 L1236.5 1542.04 L1238 1541.98 L1239.5 1541.92 L1241 1541.87 L1242.5 1541.82 L1244 1541.78 L1245.5 1541.73 L1247 1541.69 L1248.5 1541.66 L1250 1541.62 L1251.5 1541.59 L1253 1541.56" fill="none" stroke="#FA3A2C" stroke-width="2.8" stroke-linejoin="round"/>
<path d="M915.5 1704.3 V1766.9 M910.2 1704.3 H920.8 M910.2 1766.9 H920.8" stroke="#FA3A2C" stroke-width="2.6" stroke-linecap="round" fill="none"/>
<circle cx="915.5" cy="1734.9" r="5" fill="#FA3A2C"/>
<path d="M938.08 1718.6 V1756.5 M932.78 1718.6 H943.38 M932.78 1756.5 H943.38" stroke="#FA3A2C" stroke-width="2.6" stroke-linecap="round" fill="none"/>
<circle cx="938.08" cy="1736.8" r="5" fill="#FA3A2C"/>
<path d="M960.66 1723.5 V1785.6 M955.36 1723.5 H965.96 M955.36 1785.6 H965.96" stroke="#FA3A2C" stroke-width="2.6" stroke-linecap="round" fill="none"/>
<circle cx="960.66" cy="1754.6" r="5" fill="#FA3A2C"/>
<path d="M983.24 1718.1 V1771.8 M977.94 1718.1 H988.54 M977.94 1771.8 H988.54" stroke="#FA3A2C" stroke-width="2.6" stroke-linecap="round" fill="none"/>
<circle cx="983.24" cy="1744.7" r="5" fill="#FA3A2C"/>
<path d="M1005.82 1721.5 V1767.4 M1000.52 1721.5 H1011.12 M1000.52 1767.4 H1011.12" stroke="#FA3A2C" stroke-width="2.6" stroke-linecap="round" fill="none"/>
<circle cx="1005.82" cy="1744.7" r="5" fill="#FA3A2C"/>
<path d="M1028.4 1679.7 V1768.4 M1023.1 1679.7 H1033.7 M1023.1 1768.4 H1033.7" stroke="#FA3A2C" stroke-width="2.6" stroke-linecap="round" fill="none"/>
<circle cx="1028.4" cy="1723.5" r="5" fill="#FA3A2C"/>
<path d="M1050.98 1682.6 V1785.6 M1045.68 1682.6 H1056.28 M1045.68 1785.6 H1056.28" stroke="#FA3A2C" stroke-width="2.6" stroke-linecap="round" fill="none"/>
<circle cx="1050.98" cy="1733.9" r="5" fill="#FA3A2C"/>
<path d="M1073.56 1678.7 V1772.3 M1068.26 1678.7 H1078.86 M1068.26 1772.3 H1078.86" stroke="#FA3A2C" stroke-width="2.6" stroke-linecap="round" fill="none"/>
<circle cx="1073.56" cy="1725.5" r="5" fill="#FA3A2C"/>
<path d="M1096.14 1658.6 V1711.2 M1090.84 1658.6 H1101.44 M1090.84 1711.2 H1101.44" stroke="#FA3A2C" stroke-width="2.6" stroke-linecap="round" fill="none"/>
<circle cx="1096.14" cy="1684.9" r="5" fill="#FA3A2C"/>
<path d="M1118.72 1595.4 V1636.5 M1113.42 1595.4 H1124.02 M1113.42 1636.5 H1124.02" stroke="#FA3A2C" stroke-width="2.6" stroke-linecap="round" fill="none"/>
<circle cx="1118.72" cy="1616" r="5" fill="#FA3A2C"/>
<path d="M1141.3 1574.1 V1597 M1136 1574.1 H1146.6 M1136 1597 H1146.6" stroke="#FA3A2C" stroke-width="2.6" stroke-linecap="round" fill="none"/>
<circle cx="1141.3" cy="1585.6" r="5" fill="#FA3A2C"/>
<path d="M1163.88 1556.2 V1587.1 M1158.58 1556.2 H1169.18 M1158.58 1587.1 H1169.18" stroke="#FA3A2C" stroke-width="2.6" stroke-linecap="round" fill="none"/>
<circle cx="1163.88" cy="1571.9" r="5" fill="#FA3A2C"/>
<path d="M1186.46 1481.3 V1547.5 M1181.16 1481.3 H1191.76 M1181.16 1547.5 H1191.76" stroke="#FA3A2C" stroke-width="2.6" stroke-linecap="round" fill="none"/>
<circle cx="1186.46" cy="1514.5" r="5" fill="#FA3A2C"/>
<path d="M1209.04 1496.2 V1573.4 M1203.74 1496.2 H1214.34 M1203.74 1573.4 H1214.34" stroke="#FA3A2C" stroke-width="2.6" stroke-linecap="round" fill="none"/>
<circle cx="1209.04" cy="1534.6" r="5" fill="#FA3A2C"/>
<path d="M1231.62 1496.5 V1585.2 M1226.32 1496.5 H1236.92 M1226.32 1585.2 H1236.92" stroke="#FA3A2C" stroke-width="2.6" stroke-linecap="round" fill="none"/>
<circle cx="1231.62" cy="1541" r="5" fill="#FA3A2C"/>
<path d="M1254.2 1513 V1606.4 M1248.9 1513 H1259.5 M1248.9 1606.4 H1259.5" stroke="#FA3A2C" stroke-width="2.6" stroke-linecap="round" fill="none"/>
<circle cx="1254.2" cy="1559.7" r="5" fill="#FA3A2C"/>
<text transform="translate(1114.12,1690.4) scale(1.0482,1)" fill="#FF0000" stroke="#FF0000"><tspan font-size="26.2" font-style="italic">K</tspan><tspan font-size="18" font-style="italic" dy="4.5">i</tspan><tspan font-size="26.2" dy="-4.5">= 31 </tspan><tspan font-size="26.2" font-weight="normal">±</tspan><tspan font-size="26.2"> 9 </tspan><tspan font-size="26.2" font-weight="normal">µ</tspan><tspan font-size="26.2">M</tspan></text>
<text transform="translate(16.04,1933.3) scale(0.8626,1)" fill="#000" stroke="#000"><tspan font-size="31">f</tspan></text>
<line x1="295.6" y1="1954.3" x2="295.6" y2="2346.3" stroke="#000" stroke-width="3.5" stroke-linecap="butt"/>
<line x1="283.3" y1="2344.2" x2="295.6" y2="2344.2" stroke="#000" stroke-width="3.5" stroke-linecap="butt"/>
<text transform="translate(265.33,2351.8) scale(1.0000,1)" fill="#000" stroke="#000"><tspan font-size="24.4">0</tspan></text>
<line x1="283.3" y1="2247.05" x2="295.6" y2="2247.05" stroke="#000" stroke-width="3.5" stroke-linecap="butt"/>
<text transform="translate(224.62,2254.65) scale(1.0000,1)" fill="#000" stroke="#000"><tspan font-size="24.4">2500</tspan></text>
<line x1="283.3" y1="2149.9" x2="295.6" y2="2149.9" stroke="#000" stroke-width="3.5" stroke-linecap="butt"/>
<text transform="translate(224.62,2157.5) scale(1.0000,1)" fill="#000" stroke="#000"><tspan font-size="24.4">5000</tspan></text>
<line x1="283.3" y1="2052.75" x2="295.6" y2="2052.75" stroke="#000" stroke-width="3.5" stroke-linecap="butt"/>
<text transform="translate(224.62,2060.35) scale(1.0000,1)" fill="#000" stroke="#000"><tspan font-size="24.4">7500</tspan></text>
<line x1="283.3" y1="1955.6" x2="295.6" y2="1955.6" stroke="#000" stroke-width="3.5" stroke-linecap="butt"/>
<text transform="translate(211.05,1963.2) scale(1.0000,1)" fill="#000" stroke="#000"><tspan font-size="24.4">10000</tspan></text>
<rect x="309.7" y="2328" width="27.1" height="14.3" fill="#FF2600"/>
<rect x="351.2" y="2321" width="27.4" height="21.3" fill="#0433FF"/>
<rect x="419.8" y="2318" width="27.2" height="24.3" fill="#FF2600"/>
<rect x="461" y="2051" width="27" height="291.3" fill="#0433FF"/>
<rect x="292.3" y="2328.3" width="205" height="12" fill="url(#gs)"/>
<line x1="292.9" y1="2326.8" x2="497.3" y2="2326.8" stroke="#C00000" stroke-width="4.2" stroke-dasharray="4.3 3.7"/>
<path d="M323.2 2328 V2325 M315.8 2325 H330.6" stroke="#00FDFF" stroke-width="1.8" fill="none"/>
<path d="M364.9 2321 V2316.4 M357.5 2316.4 H372.3" stroke="#00FDFF" stroke-width="1.8" fill="none"/>
<path d="M433.4 2318 V2312.4 M426 2312.4 H440.8" stroke="#00FDFF" stroke-width="1.8" fill="none"/>
<path d="M474.7 2051 V2040.4 M467.3 2040.4 H482.1" stroke="#00FDFF" stroke-width="1.8" fill="none"/>
<circle cx="322.9" cy="2318.7" r="4.5" fill="#00FDFF"/>
<circle cx="313.6" cy="2333.1" r="4.5" fill="#00FDFF"/>
<circle cx="322.9" cy="2329.8" r="4.5" fill="#00FDFF"/>
<circle cx="332.2" cy="2331.4" r="4.5" fill="#00FDFF"/>
<circle cx="364.2" cy="2307.6" r="4.5" fill="#00FDFF"/>
<circle cx="355.4" cy="2327.3" r="4.5" fill="#00FDFF"/>
<circle cx="364.2" cy="2322.9" r="4.5" fill="#00FDFF"/>
<circle cx="373.4" cy="2325.7" r="4.5" fill="#00FDFF"/>
<circle cx="423.8" cy="2309.4" r="4.5" fill="#00FDFF"/>
<circle cx="442.3" cy="2306.6" r="4.5" fill="#00FDFF"/>
<circle cx="423.8" cy="2327.5" r="4.5" fill="#00FDFF"/>
<circle cx="442.3" cy="2327.5" r="4.5" fill="#00FDFF"/>
<circle cx="474.3" cy="2027.7" r="4.5" fill="#00FDFF"/>
<circle cx="474.3" cy="2039" r="4.5" fill="#00FDFF"/>
<circle cx="483.3" cy="2063.8" r="4.5" fill="#00FDFF"/>
<circle cx="465.4" cy="2072.1" r="4.5" fill="#00FDFF"/>
<line x1="294" y1="2344.2" x2="501.9" y2="2344.2" stroke="#000" stroke-width="4" stroke-linecap="butt"/>
<line x1="343.8" y1="2344.2" x2="343.8" y2="2357" stroke="#000" stroke-width="3.5" stroke-linecap="butt"/>
<line x1="453.2" y1="2344.2" x2="453.2" y2="2357" stroke="#000" stroke-width="3.5" stroke-linecap="butt"/>
<rect x="305.1" y="1944.9" width="35.8" height="21.3" fill="#FF2600"/>
<rect x="305.1" y="1988" width="35.8" height="21.4" fill="#0433FF"/>
<text transform="translate(356.92,1963.8) scale(0.9639,1)" fill="#000" stroke="#000"><tspan font-size="24.8">pH 4 inside and outside</tspan></text>
<text transform="translate(356.93,2006.2) scale(0.9621,1)" fill="#000" stroke="#000"><tspan font-size="24.8">pH 7 inside and 4 outside</tspan></text>
<text transform="translate(164.6,2368.43) rotate(-90) scale(0.9084,1)" fill="#000" stroke="#000"><tspan font-size="26.3">Uptake of [</tspan><tspan font-size="18.4" dy="-8.8">3</tspan><tspan font-size="26.3" dy="8.8">H]-L-lysine (nmol/mg LysP)</tspan></text>
<text transform="translate(346.63,2376.09) rotate(-34) scale(1.0000,1) translate(-95.2,0)" fill="#000" stroke="#000"><tspan font-size="24">No LysP</tspan></text>
<text transform="translate(452.03,2381.72) rotate(-34) scale(1.0000,1) translate(-193.72,0)" fill="#000" stroke="#000"><tspan font-size="24">Proteoliposomes</tspan></text>
<text transform="translate(758.7,1954) scale(1.1032,1)" fill="#000" stroke="#000"><tspan font-size="31">g</tspan></text>
<line x1="1055" y1="1989.1" x2="1055" y2="2377.8" stroke="#000" stroke-width="3.1" stroke-linecap="butt"/>
<line x1="1043.2" y1="2376.4" x2="1055" y2="2376.4" stroke="#000" stroke-width="3.1" stroke-linecap="butt"/>
<text transform="translate(1024.24,2384.2) scale(1.0000,1)" fill="#000" stroke="#000"><tspan font-size="23.6">0</tspan></text>
<line x1="1043.2" y1="2299.11" x2="1055" y2="2299.11" stroke="#000" stroke-width="3.1" stroke-linecap="butt"/>
<text transform="translate(1011.12,2306.91) scale(1.0000,1)" fill="#000" stroke="#000"><tspan font-size="23.6">20</tspan></text>
<line x1="1043.2" y1="2221.82" x2="1055" y2="2221.82" stroke="#000" stroke-width="3.1" stroke-linecap="butt"/>
<text transform="translate(1011.12,2229.62) scale(1.0000,1)" fill="#000" stroke="#000"><tspan font-size="23.6">40</tspan></text>
<line x1="1043.2" y1="2144.53" x2="1055" y2="2144.53" stroke="#000" stroke-width="3.1" stroke-linecap="butt"/>
<text transform="translate(1011.12,2152.33) scale(1.0000,1)" fill="#000" stroke="#000"><tspan font-size="23.6">60</tspan></text>
<line x1="1043.2" y1="2067.24" x2="1055" y2="2067.24" stroke="#000" stroke-width="3.1" stroke-linecap="butt"/>
<text transform="translate(1011.12,2075.04) scale(1.0000,1)" fill="#000" stroke="#000"><tspan font-size="23.6">80</tspan></text>
<line x1="1043.2" y1="1989.95" x2="1055" y2="1989.95" stroke="#000" stroke-width="3.1" stroke-linecap="butt"/>
<text transform="translate(997.99,1997.75) scale(1.0000,1)" fill="#000" stroke="#000"><tspan font-size="23.6">100</tspan></text>
<rect x="1069.2" y="2088.9" width="26.4" height="286.1" fill="#FF2600"/>
<rect x="1109.7" y="2086" width="26.4" height="289" fill="#0433FF"/>
<rect x="1052.2" y="2090" width="83.8" height="12" fill="url(#gs)"/>
<line x1="1052.8" y1="2088.5" x2="1136" y2="2088.5" stroke="#C00000" stroke-width="4.2" stroke-dasharray="4.3 3.7"/>
<path d="M1082.2 2073.2 V2103.7 M1075.1 2073.2 H1089.3 M1075.1 2103.7 H1089.3" stroke="#00FDFF" stroke-width="1.8" stroke-linecap="butt" fill="none"/>
<path d="M1122.7 2056.8 V2113.9 M1115.6 2056.8 H1129.8 M1115.6 2113.9 H1129.8" stroke="#00FDFF" stroke-width="1.8" stroke-linecap="butt" fill="none"/>
<circle cx="1082.1" cy="2045.1" r="5.5" fill="#00FDFF"/>
<circle cx="1074.4" cy="2094.7" r="5.5" fill="#00FDFF"/>
<circle cx="1090" cy="2100" r="5.5" fill="#00FDFF"/>
<circle cx="1082.1" cy="2115.7" r="5.5" fill="#00FDFF"/>
<circle cx="1115" cy="2054.4" r="5.5" fill="#00FDFF"/>
<circle cx="1130.4" cy="2044.3" r="5.5" fill="#00FDFF"/>
<circle cx="1122.7" cy="2073.8" r="5.5" fill="#00FDFF"/>
<circle cx="1122.7" cy="2168.7" r="5.5" fill="#00FDFF"/>
<line x1="1042.8" y1="2376.4" x2="1149.8" y2="2376.4" stroke="#000" stroke-width="3.2" stroke-linecap="butt"/>
<line x1="1082.2" y1="2376.4" x2="1082.2" y2="2388.5" stroke="#000" stroke-width="3" stroke-linecap="butt"/>
<line x1="1122.4" y1="2376.4" x2="1122.4" y2="2388.5" stroke="#000" stroke-width="3" stroke-linecap="butt"/>
<text transform="translate(956.6,2392.57) rotate(-90) scale(0.9041,1)" fill="#000" stroke="#000"><tspan font-size="25.3">Uptake of [</tspan><tspan font-size="17.7" dy="-8.4">3</tspan><tspan font-size="25.3" dy="8.4">H]-L-lysine (nmol/mg LysP)</tspan></text>
<text transform="translate(1084.9,2409.1) rotate(-45) scale(1.0000,1) translate(-91.64,0)" fill="#000" stroke="#000"><tspan font-size="24">No NaCl</tspan></text>
<text transform="translate(1125.5,2408.4) rotate(-45) scale(1.0000,1) translate(-134.34,0)" fill="#000" stroke="#000"><tspan font-size="24">50 mM NaCl</tspan></text>
</svg></body></html>
